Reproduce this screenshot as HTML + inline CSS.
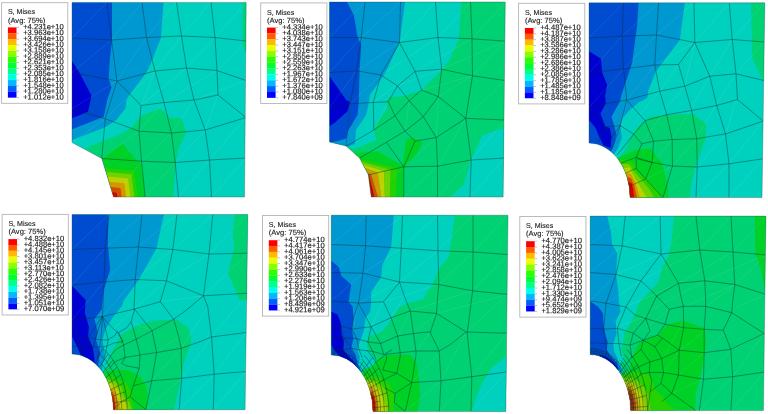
<!DOCTYPE html>
<html><head><meta charset="utf-8"><title>S, Mises contour plots</title>
<style>
html,body{margin:0;padding:0;background:#fff;}
body{width:768px;height:414px;overflow:hidden;font-family:"Liberation Sans",sans-serif;}
svg{display:block}
.t{font-family:"Liberation Sans",sans-serif;font-size:7.1px;fill:#1a1a1a;text-rendering:geometricPrecision;stroke:#1a1a1a;stroke-width:0.12px;}
.t2{font-family:"Liberation Sans",sans-serif;font-size:7.6px;fill:#1a1a1a;text-rendering:geometricPrecision;stroke:#1a1a1a;stroke-width:0.12px;}
.v{font-family:"Liberation Sans",sans-serif;font-size:7.6px;fill:#1a1a1a;text-rendering:geometricPrecision;stroke:#1a1a1a;stroke-width:0.15px;}
</style></head><body>
<svg width="768" height="414" viewBox="0 0 768 414">
<defs><filter id="gray" x="-5%" y="-5%" width="110%" height="110%" color-interpolation-filters="sRGB"><feColorMatrix type="saturate" values="0"/></filter></defs>
<rect width="768" height="414" fill="#ffffff"/>
<clipPath id="clip0"><polygon points="72.0,2.4 246.2,2.4 244.5,197.0 113.5,197.0 101.8,158.5 72.0,142.5"/></clipPath>
<g clip-path="url(#clip0)">
<rect x="0" y="0" width="768" height="414" fill="#00d1be"/>
<polygon points="243.1,2.4 246.2,2.4 246.0,54.0 242.5,44.0" fill="#00d172"/>
<polygon points="72.0,2.4 163.5,2.4 161.0,37.5 151.0,63.0 146.5,72.5 130.7,93.3 126.3,100.0 125.5,108.3 116.3,120.0 104.7,127.5 72.0,140.0" fill="#0098d1"/>
<polygon points="72.0,2.4 112.0,2.4 112.0,40.0 109.8,60.0 108.7,79.0 111.5,87.5 107.2,100.0 103.8,116.7 72.0,129.2" fill="#004cd1"/>
<polygon points="72.0,61.0 79.0,71.7 91.5,95.8 88.0,111.7 72.0,118.3" fill="#0000d1"/>
<polygon points="84.7,148.3 101.3,141.7 123.0,133.3 132.2,126.7 141.3,115.8 160.5,108.3 169.7,117.5 181.3,118.3 186.3,131.7 178.0,150.0 176.3,160.0 173.0,197.0 113.5,197.0 101.8,158.5" fill="#00d172"/>
<polygon points="101.8,158.5 122.5,143.8 136.8,160.8 140.9,162.3 145.5,197.0 113.5,197.0" fill="#00d126"/>
<polygon points="104.7,167.9 134.2,170.8 137.7,197.0 113.5,197.0" fill="#26d100"/>
<polygon points="105.9,171.9 131.4,174.3 134.4,197.0 113.5,197.0" fill="#72d100"/>
<polygon points="107.3,176.6 128.0,178.6 130.5,197.0 113.5,197.0" fill="#bed100"/>
<polygon points="108.9,181.8 124.4,183.3 126.2,197.0 113.5,197.0" fill="#d19800"/>
<polygon points="110.5,187.1 120.5,188.1 121.7,197.0 113.5,197.0" fill="#d14c00"/>
<polygon points="112.1,192.3 116.8,192.8 117.4,197.0 113.5,197.0" fill="#d10000"/>
<polyline points="72.0,38.0 107.0,2.4" fill="none" stroke="#ffffff" stroke-opacity="0.14" stroke-width="0.6"/>
<polyline points="111.5,40.0 142.0,2.4" fill="none" stroke="#ffffff" stroke-opacity="0.14" stroke-width="0.6"/>
<polyline points="146.5,37.5 176.5,2.4" fill="none" stroke="#ffffff" stroke-opacity="0.14" stroke-width="0.6"/>
<polyline points="181.5,36.0 211.0,2.4" fill="none" stroke="#ffffff" stroke-opacity="0.14" stroke-width="0.6"/>
<polyline points="215.0,37.5 246.2,2.4" fill="none" stroke="#ffffff" stroke-opacity="0.14" stroke-width="0.6"/>
<polyline points="72.0,72.5 111.5,40.0" fill="none" stroke="#ffffff" stroke-opacity="0.14" stroke-width="0.6"/>
<polyline points="117.0,81.0 146.5,37.5" fill="none" stroke="#ffffff" stroke-opacity="0.14" stroke-width="0.6"/>
<polyline points="155.0,71.0 181.5,36.0" fill="none" stroke="#ffffff" stroke-opacity="0.14" stroke-width="0.6"/>
<polyline points="186.5,68.0 215.0,37.5" fill="none" stroke="#ffffff" stroke-opacity="0.14" stroke-width="0.6"/>
<polyline points="217.0,70.5 246.0,41.0" fill="none" stroke="#ffffff" stroke-opacity="0.14" stroke-width="0.6"/>
<polyline points="72.0,108.8 117.0,81.0" fill="none" stroke="#ffffff" stroke-opacity="0.14" stroke-width="0.6"/>
<polyline points="105.2,118.8 155.0,71.0" fill="none" stroke="#ffffff" stroke-opacity="0.14" stroke-width="0.6"/>
<polyline points="141.0,105.5 186.5,68.0" fill="none" stroke="#ffffff" stroke-opacity="0.14" stroke-width="0.6"/>
<polyline points="164.0,102.5 217.0,70.5" fill="none" stroke="#ffffff" stroke-opacity="0.14" stroke-width="0.6"/>
<polyline points="194.0,100.0 246.0,80.5" fill="none" stroke="#ffffff" stroke-opacity="0.14" stroke-width="0.6"/>
<polyline points="101.8,158.5 139.0,131.2" fill="none" stroke="#ffffff" stroke-opacity="0.14" stroke-width="0.6"/>
<polyline points="141.5,161.2 171.5,133.0" fill="none" stroke="#ffffff" stroke-opacity="0.14" stroke-width="0.6"/>
<polyline points="175.2,162.5 205.2,130.0" fill="none" stroke="#ffffff" stroke-opacity="0.14" stroke-width="0.6"/>
<polyline points="209.5,160.0 246.0,117.5" fill="none" stroke="#ffffff" stroke-opacity="0.14" stroke-width="0.6"/>
<polyline points="113.5,197.0 141.5,161.2" fill="none" stroke="#ffffff" stroke-opacity="0.14" stroke-width="0.6"/>
<polyline points="145.2,197.0 175.2,162.5" fill="none" stroke="#ffffff" stroke-opacity="0.14" stroke-width="0.6"/>
<polyline points="178.5,197.0 209.5,160.0" fill="none" stroke="#ffffff" stroke-opacity="0.14" stroke-width="0.6"/>
<polyline points="211.5,197.0 246.0,158.0" fill="none" stroke="#ffffff" stroke-opacity="0.14" stroke-width="0.6"/>
<polyline points="72.0,142.5 105.2,118.8" fill="none" stroke="#ffffff" stroke-opacity="0.14" stroke-width="0.6"/>
<polyline points="141.0,105.5 155.0,71.0" fill="none" stroke="#ffffff" stroke-opacity="0.14" stroke-width="0.6"/>
<polyline points="139.0,131.2 164.0,102.5" fill="none" stroke="#ffffff" stroke-opacity="0.14" stroke-width="0.6"/>
<polyline points="171.5,133.0 194.0,100.0" fill="none" stroke="#ffffff" stroke-opacity="0.14" stroke-width="0.6"/>
<polyline points="205.2,130.0 218.0,95.0" fill="none" stroke="#ffffff" stroke-opacity="0.14" stroke-width="0.6"/>
<polyline points="107.0,2.4 111.5,40.0 117.0,81.0 105.2,118.8 101.8,158.5" fill="none" stroke="#0a2a30" stroke-opacity="0.75" stroke-width="0.55"/>
<polyline points="142.0,2.4 146.5,37.5 155.0,71.0 164.0,102.5 171.5,133.0 175.2,162.5 178.5,197.0" fill="none" stroke="#0a2a30" stroke-opacity="0.75" stroke-width="0.55"/>
<polyline points="176.5,2.4 181.5,36.0 186.5,68.0 194.0,100.0 205.2,130.0 209.5,160.0 211.5,197.0" fill="none" stroke="#0a2a30" stroke-opacity="0.75" stroke-width="0.55"/>
<polyline points="211.0,2.4 215.0,37.5 217.0,70.5 218.0,95.0 246.0,117.5" fill="none" stroke="#0a2a30" stroke-opacity="0.75" stroke-width="0.55"/>
<polyline points="117.0,81.0 141.0,105.5 139.0,131.2 141.5,161.2 145.2,197.0" fill="none" stroke="#0a2a30" stroke-opacity="0.75" stroke-width="0.55"/>
<polyline points="72.0,38.0 111.5,40.0 146.5,37.5 181.5,36.0 215.0,37.5 246.0,41.0" fill="none" stroke="#0a2a30" stroke-opacity="0.75" stroke-width="0.55"/>
<polyline points="72.0,72.5 117.0,81.0 155.0,71.0 186.5,68.0 217.0,70.5 246.0,80.5" fill="none" stroke="#0a2a30" stroke-opacity="0.75" stroke-width="0.55"/>
<polyline points="141.0,105.5 164.0,102.5 194.0,100.0 218.0,95.0" fill="none" stroke="#0a2a30" stroke-opacity="0.75" stroke-width="0.55"/>
<polyline points="72.0,108.8 105.2,118.8 139.0,131.2 171.5,133.0 205.2,130.0 246.0,117.5" fill="none" stroke="#0a2a30" stroke-opacity="0.75" stroke-width="0.55"/>
<polyline points="101.8,158.5 141.5,161.2 175.2,162.5 209.5,160.0 246.0,158.0" fill="none" stroke="#0a2a30" stroke-opacity="0.75" stroke-width="0.55"/>
</g>
<polygon points="72.0,2.4 246.2,2.4 244.5,197.0 113.5,197.0 101.8,158.5 72.0,142.5" fill="none" stroke="#2a4a4a" stroke-opacity="0.7" stroke-width="0.5"/>
<rect x="1.6" y="2.7" width="66.2" height="100.6" fill="#fff" stroke="#b4b4b4" stroke-width="0.9"/>
<g filter="url(#gray)">
<text x="7.9" y="14.3" class="t">S, Mises</text>
<text x="7.9" y="22.5" class="t2">(Avg: 75%)</text>
<text x="23.2" y="29.20" class="v" transform="rotate(0.05 23.2 29.20)">+4.231e+10</text>
<text x="23.2" y="35.05" class="v" transform="rotate(0.05 23.2 35.05)">+3.963e+10</text>
<text x="23.2" y="40.90" class="v" transform="rotate(0.05 23.2 40.90)">+3.694e+10</text>
<text x="23.2" y="46.75" class="v" transform="rotate(0.05 23.2 46.75)">+3.426e+10</text>
<text x="23.2" y="52.60" class="v" transform="rotate(0.05 23.2 52.60)">+3.158e+10</text>
<text x="23.2" y="58.45" class="v" transform="rotate(0.05 23.2 58.45)">+2.889e+10</text>
<text x="23.2" y="64.30" class="v" transform="rotate(0.05 23.2 64.30)">+2.621e+10</text>
<text x="23.2" y="70.15" class="v" transform="rotate(0.05 23.2 70.15)">+2.353e+10</text>
<text x="23.2" y="76.00" class="v" transform="rotate(0.05 23.2 76.00)">+2.085e+10</text>
<text x="23.2" y="81.85" class="v" transform="rotate(0.05 23.2 81.85)">+1.816e+10</text>
<text x="23.2" y="87.70" class="v" transform="rotate(0.05 23.2 87.70)">+1.548e+10</text>
<text x="23.2" y="93.55" class="v" transform="rotate(0.05 23.2 93.55)">+1.280e+10</text>
<text x="23.2" y="99.40" class="v" transform="rotate(0.05 23.2 99.40)">+1.012e+10</text>
</g>
<rect x="7.9" y="27.40" width="8.6" height="5.90" fill="#ff0000"/>
<rect x="7.9" y="33.25" width="8.6" height="5.90" fill="#ff5d00"/>
<rect x="7.9" y="39.10" width="8.6" height="5.90" fill="#ffb900"/>
<rect x="7.9" y="44.95" width="8.6" height="5.90" fill="#e8ff00"/>
<rect x="7.9" y="50.80" width="8.6" height="5.90" fill="#8bff00"/>
<rect x="7.9" y="56.65" width="8.6" height="5.90" fill="#2eff00"/>
<rect x="7.9" y="62.50" width="8.6" height="5.90" fill="#00ff2e"/>
<rect x="7.9" y="68.35" width="8.6" height="5.90" fill="#00ff8b"/>
<rect x="7.9" y="74.20" width="8.6" height="5.90" fill="#00ffe8"/>
<rect x="7.9" y="80.05" width="8.6" height="5.90" fill="#00b9ff"/>
<rect x="7.9" y="85.90" width="8.6" height="5.90" fill="#005dff"/>
<rect x="7.9" y="91.75" width="8.6" height="5.90" fill="#0000ff"/>
<line x1="16.5" y1="27.40" x2="19.0" y2="27.40" stroke="#888" stroke-width="0.5"/>
<line x1="16.5" y1="33.25" x2="19.0" y2="33.25" stroke="#888" stroke-width="0.5"/>
<line x1="16.5" y1="39.10" x2="19.0" y2="39.10" stroke="#888" stroke-width="0.5"/>
<line x1="16.5" y1="44.95" x2="19.0" y2="44.95" stroke="#888" stroke-width="0.5"/>
<line x1="16.5" y1="50.80" x2="19.0" y2="50.80" stroke="#888" stroke-width="0.5"/>
<line x1="16.5" y1="56.65" x2="19.0" y2="56.65" stroke="#888" stroke-width="0.5"/>
<line x1="16.5" y1="62.50" x2="19.0" y2="62.50" stroke="#888" stroke-width="0.5"/>
<line x1="16.5" y1="68.35" x2="19.0" y2="68.35" stroke="#888" stroke-width="0.5"/>
<line x1="16.5" y1="74.20" x2="19.0" y2="74.20" stroke="#888" stroke-width="0.5"/>
<line x1="16.5" y1="80.05" x2="19.0" y2="80.05" stroke="#888" stroke-width="0.5"/>
<line x1="16.5" y1="85.90" x2="19.0" y2="85.90" stroke="#888" stroke-width="0.5"/>
<line x1="16.5" y1="91.75" x2="19.0" y2="91.75" stroke="#888" stroke-width="0.5"/>
<line x1="16.5" y1="97.60" x2="19.0" y2="97.60" stroke="#888" stroke-width="0.5"/>
<clipPath id="clip1"><polygon points="329.5,2.0 505.3,2.0 503.1,197.0 371.2,197.0 368.3,174.8 359.6,158.1 346.0,146.0 329.5,142.0"/></clipPath>
<g clip-path="url(#clip1)">
<rect x="0" y="0" width="768" height="414" fill="#00d172"/>
<polygon points="329.5,2.0 461.2,2.0 458.8,38.8 450.0,58.8 442.5,69.2 421.7,90.0 405.0,95.8 389.2,97.5 385.8,103.3 387.5,108.3 375.8,124.2 373.8,130.0 376.2,140.0 355.0,148.8 346.0,146.0 329.5,141.2" fill="#00d1be"/>
<polygon points="329.5,2.0 405.0,2.0 399.5,42.5 385.5,72.5 370.0,95.0 368.8,103.0 366.2,115.0 356.0,130.0 355.0,143.7 348.0,146.8 346.0,146.0 329.5,142.5" fill="#0098d1"/>
<polygon points="329.5,2.0 347.0,2.0 353.8,15.0 357.5,36.2 361.2,45.0 359.5,71.2 358.8,103.0 357.5,115.0 348.5,130.0 346.3,138.4 338.0,141.0 329.5,142.5" fill="#004cd1"/>
<polygon points="329.5,76.2 346.2,100.0 350.0,102.0 347.5,111.2 335.0,122.5 329.5,126.2" fill="#0000d1"/>
<polygon points="506.0,127.5 482.5,135.0 470.0,162.5 463.8,185.0 450.0,197.0 506.0,197.0" fill="#00d1be"/>
<polygon points="354.0,153.0 378.0,151.5 402.5,165.5 406.2,140.0 412.5,137.5 422.5,142.5 416.2,155.0 403.8,167.5 403.8,197.0 371.2,197.0 368.3,174.8 359.6,158.1" fill="#00d126"/>
<polygon points="360.3,159.1 397.2,168.3 390.7,169.7 361.7,161.7" fill="#26d100"/>
<polygon points="361.7,161.7 390.7,169.7 384.2,171.2 363.2,164.6" fill="#72d100"/>
<polygon points="363.2,164.6 384.2,171.2 377.7,172.6 365.4,168.3" fill="#bed100"/>
<polygon points="365.4,168.3 377.7,172.6 371.2,174.2 367.5,173.0" fill="#d19800"/>
<polygon points="367.5,173.0 371.2,174.2 369.0,174.6 368.3,174.8" fill="#d14c00"/>
<polygon points="368.3,174.8 369.0,174.6 374.8,197.0 371.2,197.0" fill="#d10000"/>
<polygon points="369.0,174.6 371.2,174.2 378.0,197.0 374.8,197.0" fill="#d14c00"/>
<polygon points="371.2,174.2 377.7,172.6 381.3,197.0 378.0,197.0" fill="#d19800"/>
<polygon points="377.7,172.6 384.2,171.2 384.9,197.0 381.3,197.0" fill="#bed100"/>
<polygon points="384.2,171.2 390.7,169.7 390.0,197.0 384.9,197.0" fill="#72d100"/>
<polygon points="390.7,169.7 397.2,168.3 395.8,197.0 390.0,197.0" fill="#26d100"/>
<polyline points="329.5,37.5 365.0,2.0" fill="none" stroke="#ffffff" stroke-opacity="0.14" stroke-width="0.6"/>
<polyline points="361.2,37.5 400.5,2.0" fill="none" stroke="#ffffff" stroke-opacity="0.14" stroke-width="0.6"/>
<polyline points="399.5,42.5 435.5,2.0" fill="none" stroke="#ffffff" stroke-opacity="0.14" stroke-width="0.6"/>
<polyline points="438.0,37.5 470.5,2.0" fill="none" stroke="#ffffff" stroke-opacity="0.14" stroke-width="0.6"/>
<polyline points="472.0,38.8 505.3,2.0" fill="none" stroke="#ffffff" stroke-opacity="0.14" stroke-width="0.6"/>
<polyline points="329.5,72.5 361.2,37.5" fill="none" stroke="#ffffff" stroke-opacity="0.14" stroke-width="0.6"/>
<polyline points="356.7,70.8 399.5,42.5" fill="none" stroke="#ffffff" stroke-opacity="0.14" stroke-width="0.6"/>
<polyline points="380.8,75.0 438.0,37.5" fill="none" stroke="#ffffff" stroke-opacity="0.14" stroke-width="0.6"/>
<polyline points="415.0,71.3 472.0,38.8" fill="none" stroke="#ffffff" stroke-opacity="0.14" stroke-width="0.6"/>
<polyline points="441.7,69.2 505.3,41.2" fill="none" stroke="#ffffff" stroke-opacity="0.14" stroke-width="0.6"/>
<polyline points="329.5,107.5 356.7,70.8" fill="none" stroke="#ffffff" stroke-opacity="0.14" stroke-width="0.6"/>
<polyline points="350.0,103.8 380.8,75.0" fill="none" stroke="#ffffff" stroke-opacity="0.14" stroke-width="0.6"/>
<polyline points="373.3,102.5 415.0,71.3" fill="none" stroke="#ffffff" stroke-opacity="0.14" stroke-width="0.6"/>
<polyline points="397.5,85.8 441.7,69.2" fill="none" stroke="#ffffff" stroke-opacity="0.14" stroke-width="0.6"/>
<polyline points="421.7,90.0 472.5,75.8" fill="none" stroke="#ffffff" stroke-opacity="0.14" stroke-width="0.6"/>
<polyline points="403.8,197.0 437.5,166.2" fill="none" stroke="#ffffff" stroke-opacity="0.14" stroke-width="0.6"/>
<polyline points="437.5,197.0 471.2,160.0" fill="none" stroke="#ffffff" stroke-opacity="0.14" stroke-width="0.6"/>
<polyline points="470.0,197.0 505.0,158.0" fill="none" stroke="#ffffff" stroke-opacity="0.14" stroke-width="0.6"/>
<polyline points="437.5,166.2 465.8,118.3" fill="none" stroke="#ffffff" stroke-opacity="0.14" stroke-width="0.6"/>
<polyline points="471.2,160.0 505.0,120.0" fill="none" stroke="#ffffff" stroke-opacity="0.14" stroke-width="0.6"/>
<polyline points="465.8,118.3 505.0,80.5" fill="none" stroke="#ffffff" stroke-opacity="0.14" stroke-width="0.6"/>
<polyline points="438.3,96.7 472.5,75.8" fill="none" stroke="#ffffff" stroke-opacity="0.14" stroke-width="0.6"/>
<polyline points="472.5,75.8 505.3,41.2" fill="none" stroke="#ffffff" stroke-opacity="0.14" stroke-width="0.6"/>
<polyline points="346.2,146.2 350.0,103.8" fill="none" stroke="#ffffff" stroke-opacity="0.14" stroke-width="0.6"/>
<polyline points="373.8,130.0 388.3,101.7" fill="none" stroke="#ffffff" stroke-opacity="0.14" stroke-width="0.6"/>
<polyline points="405.0,131.2 409.2,100.8" fill="none" stroke="#ffffff" stroke-opacity="0.14" stroke-width="0.6"/>
<polyline points="436.2,137.5 438.3,96.7" fill="none" stroke="#ffffff" stroke-opacity="0.14" stroke-width="0.6"/>
<polyline points="403.8,166.8 436.2,137.5" fill="none" stroke="#ffffff" stroke-opacity="0.14" stroke-width="0.6"/>
<polyline points="371.2,197.0 403.8,166.8" fill="none" stroke="#ffffff" stroke-opacity="0.14" stroke-width="0.6"/>
<polyline points="365.0,2.0 361.2,37.5 356.7,70.8 350.0,103.8 346.2,146.2" fill="none" stroke="#0a2a30" stroke-opacity="0.75" stroke-width="0.55"/>
<polyline points="400.5,2.0 399.5,42.5 380.8,75.0 373.3,102.5 373.8,130.0" fill="none" stroke="#0a2a30" stroke-opacity="0.75" stroke-width="0.55"/>
<polyline points="435.5,2.0 438.0,37.5 441.7,69.2 438.3,96.7 423.3,116.7 405.0,131.2 359.6,158.1" fill="none" stroke="#0a2a30" stroke-opacity="0.75" stroke-width="0.55"/>
<polyline points="470.5,2.0 472.0,38.8 472.5,75.8 465.8,118.3 471.2,160.0 470.0,197.0" fill="none" stroke="#0a2a30" stroke-opacity="0.75" stroke-width="0.55"/>
<polyline points="329.5,37.5 361.2,37.5 399.5,42.5 438.0,37.5 472.0,38.8 505.3,41.2" fill="none" stroke="#0a2a30" stroke-opacity="0.75" stroke-width="0.55"/>
<polyline points="329.5,72.5 356.7,70.8 380.8,75.0 397.5,85.8 409.2,100.8 423.3,116.7 436.2,137.5 437.5,166.2 437.5,197.0" fill="none" stroke="#0a2a30" stroke-opacity="0.75" stroke-width="0.55"/>
<polyline points="399.5,42.5 415.0,71.3 421.7,90.0 438.3,96.7 465.8,118.3 505.0,120.0" fill="none" stroke="#0a2a30" stroke-opacity="0.75" stroke-width="0.55"/>
<polyline points="415.0,71.3 441.7,69.2 472.5,75.8 505.0,80.5" fill="none" stroke="#0a2a30" stroke-opacity="0.75" stroke-width="0.55"/>
<polyline points="415.0,71.3 397.5,85.8 388.3,101.7 395.0,115.8 405.0,131.2 415.0,141.2 403.8,166.8" fill="none" stroke="#0a2a30" stroke-opacity="0.75" stroke-width="0.55"/>
<polyline points="421.7,90.0 409.2,100.8 395.0,115.8 373.8,130.0 346.2,146.2" fill="none" stroke="#0a2a30" stroke-opacity="0.75" stroke-width="0.55"/>
<polyline points="329.5,107.5 350.0,103.8 373.3,102.5 388.3,101.7" fill="none" stroke="#0a2a30" stroke-opacity="0.75" stroke-width="0.55"/>
<polyline points="415.0,141.2 436.2,137.5 465.8,118.3" fill="none" stroke="#0a2a30" stroke-opacity="0.75" stroke-width="0.55"/>
<polyline points="368.3,174.8 403.8,166.8 437.5,166.2 471.2,160.0 505.0,158.0" fill="none" stroke="#0a2a30" stroke-opacity="0.75" stroke-width="0.55"/>
<polyline points="403.8,166.8 403.8,197.0" fill="none" stroke="#0a2a30" stroke-opacity="0.75" stroke-width="0.55"/>
<polyline points="403.8,166.8 386.4,142.3" fill="none" stroke="#0a2a30" stroke-opacity="0.75" stroke-width="0.55"/>
</g>
<polygon points="329.5,2.0 505.3,2.0 503.1,197.0 371.2,197.0 368.3,174.8 359.6,158.1 346.0,146.0 329.5,142.0" fill="none" stroke="#2a4a4a" stroke-opacity="0.7" stroke-width="0.5"/>
<rect x="260.7" y="2.9" width="66.2" height="100.6" fill="#fff" stroke="#b4b4b4" stroke-width="0.9"/>
<g filter="url(#gray)">
<text x="267.0" y="14.5" class="t">S, Mises</text>
<text x="267.0" y="22.7" class="t2">(Avg: 75%)</text>
<text x="282.3" y="29.40" class="v" transform="rotate(0.05 282.3 29.40)">+4.334e+10</text>
<text x="282.3" y="35.25" class="v" transform="rotate(0.05 282.3 35.25)">+4.038e+10</text>
<text x="282.3" y="41.10" class="v" transform="rotate(0.05 282.3 41.10)">+3.743e+10</text>
<text x="282.3" y="46.95" class="v" transform="rotate(0.05 282.3 46.95)">+3.447e+10</text>
<text x="282.3" y="52.80" class="v" transform="rotate(0.05 282.3 52.80)">+3.151e+10</text>
<text x="282.3" y="58.65" class="v" transform="rotate(0.05 282.3 58.65)">+2.855e+10</text>
<text x="282.3" y="64.50" class="v" transform="rotate(0.05 282.3 64.50)">+2.559e+10</text>
<text x="282.3" y="70.35" class="v" transform="rotate(0.05 282.3 70.35)">+2.263e+10</text>
<text x="282.3" y="76.20" class="v" transform="rotate(0.05 282.3 76.20)">+1.967e+10</text>
<text x="282.3" y="82.05" class="v" transform="rotate(0.05 282.3 82.05)">+1.672e+10</text>
<text x="282.3" y="87.90" class="v" transform="rotate(0.05 282.3 87.90)">+1.376e+10</text>
<text x="282.3" y="93.75" class="v" transform="rotate(0.05 282.3 93.75)">+1.080e+10</text>
<text x="282.3" y="99.60" class="v" transform="rotate(0.05 282.3 99.60)">+7.840e+09</text>
</g>
<rect x="267.0" y="27.60" width="8.6" height="5.90" fill="#ff0000"/>
<rect x="267.0" y="33.45" width="8.6" height="5.90" fill="#ff5d00"/>
<rect x="267.0" y="39.30" width="8.6" height="5.90" fill="#ffb900"/>
<rect x="267.0" y="45.15" width="8.6" height="5.90" fill="#e8ff00"/>
<rect x="267.0" y="51.00" width="8.6" height="5.90" fill="#8bff00"/>
<rect x="267.0" y="56.85" width="8.6" height="5.90" fill="#2eff00"/>
<rect x="267.0" y="62.70" width="8.6" height="5.90" fill="#00ff2e"/>
<rect x="267.0" y="68.55" width="8.6" height="5.90" fill="#00ff8b"/>
<rect x="267.0" y="74.40" width="8.6" height="5.90" fill="#00ffe8"/>
<rect x="267.0" y="80.25" width="8.6" height="5.90" fill="#00b9ff"/>
<rect x="267.0" y="86.10" width="8.6" height="5.90" fill="#005dff"/>
<rect x="267.0" y="91.95" width="8.6" height="5.90" fill="#0000ff"/>
<line x1="275.6" y1="27.60" x2="278.1" y2="27.60" stroke="#888" stroke-width="0.5"/>
<line x1="275.6" y1="33.45" x2="278.1" y2="33.45" stroke="#888" stroke-width="0.5"/>
<line x1="275.6" y1="39.30" x2="278.1" y2="39.30" stroke="#888" stroke-width="0.5"/>
<line x1="275.6" y1="45.15" x2="278.1" y2="45.15" stroke="#888" stroke-width="0.5"/>
<line x1="275.6" y1="51.00" x2="278.1" y2="51.00" stroke="#888" stroke-width="0.5"/>
<line x1="275.6" y1="56.85" x2="278.1" y2="56.85" stroke="#888" stroke-width="0.5"/>
<line x1="275.6" y1="62.70" x2="278.1" y2="62.70" stroke="#888" stroke-width="0.5"/>
<line x1="275.6" y1="68.55" x2="278.1" y2="68.55" stroke="#888" stroke-width="0.5"/>
<line x1="275.6" y1="74.40" x2="278.1" y2="74.40" stroke="#888" stroke-width="0.5"/>
<line x1="275.6" y1="80.25" x2="278.1" y2="80.25" stroke="#888" stroke-width="0.5"/>
<line x1="275.6" y1="86.10" x2="278.1" y2="86.10" stroke="#888" stroke-width="0.5"/>
<line x1="275.6" y1="91.95" x2="278.1" y2="91.95" stroke="#888" stroke-width="0.5"/>
<line x1="275.6" y1="97.80" x2="278.1" y2="97.80" stroke="#888" stroke-width="0.5"/>
<clipPath id="clip2"><path d="M589,2.8 L764.8,2.8 L762,197.6 L630.1,197.6 A41.1,54.6 0 0 0 589,143.0 Z"/></clipPath>
<g clip-path="url(#clip2)">
<rect x="0" y="0" width="768" height="414" fill="#00d1be"/>
<polygon points="751.1,2.8 764.8,2.8 763.6,82.5 752.2,57.5" fill="#00d172"/>
<polygon points="589.0,2.8 684.8,2.8 679.8,40.0 656.0,71.2 648.5,90.0 647.2,98.0 638.6,102.4 629.1,110.4 622.7,118.3 620.3,126.3 621.9,137.5 617.9,148.6 615.5,151.8 589.0,197.6" fill="#0098d1"/>
<polygon points="589.0,2.8 638.5,2.8 637.2,25.0 632.2,62.5 624.8,85.0 621.1,96.0 620.3,100.8 611.5,116.7 613.9,124.7 616.3,134.3 614.7,142.3 612.3,148.6 589.0,197.6" fill="#004cd1"/>
<polygon points="589.0,51.2 601.0,58.8 602.2,72.5 607.2,85.0 605.1,96.0 605.9,103.2 600.4,113.5 605.1,126.3 609.9,127.9 611.5,137.5 610.5,148.0 603.5,145.5 598.8,135.9 595.6,127.9 589.0,120.0" fill="#0000d1"/>
<polygon points="619.5,157.4 625.9,148.6 632.3,134.3 638.6,126.3 650.0,116.7 666.0,115.0 693.5,113.8 706.0,123.8 706.0,137.5 696.0,165.0 691.0,185.0 689.8,197.6 589.0,197.6" fill="#00d172"/>
<polygon points="617.4,158.1 637.7,149.4 650.7,148.7 662.3,163.9 667.4,183.5 668.1,197.6 589.0,197.6" fill="#00d126"/>
<polygon points="618.8,160.3 627.5,159.6 634.8,163.9 637.0,171.2 646.4,179.1 655.1,187.8 663.0,197.6 589.0,197.6" fill="#26d100"/>
<polygon points="621.0,163.9 629.0,163.9 634.1,171.2 642.0,180.6 649.3,189.3 654.3,197.6 589.0,197.6" fill="#72d100"/>
<polygon points="622.9,168.3 629.7,167.5 632.6,174.1 638.4,183.5 646.4,197.6 589.0,197.6" fill="#bed100"/>
<polygon points="624.9,172.6 631.0,174.1 635.8,183.5 639.9,197.6 589.0,197.6" fill="#d19800"/>
<polygon points="626.1,176.2 631.2,178.4 634.5,186.4 637.0,197.6 589.0,197.6" fill="#d14c00"/>
<polygon points="627.5,181.3 631.8,183.5 633.2,189.3 634.1,197.6 589.0,197.6" fill="#d10000"/>
<polyline points="589.0,38.0 623.5,2.8" fill="none" stroke="#ffffff" stroke-opacity="0.14" stroke-width="0.6"/>
<polyline points="622.2,36.2 658.5,2.8" fill="none" stroke="#ffffff" stroke-opacity="0.14" stroke-width="0.6"/>
<polyline points="656.5,35.0 694.0,2.8" fill="none" stroke="#ffffff" stroke-opacity="0.14" stroke-width="0.6"/>
<polyline points="694.8,42.5 729.3,2.8" fill="none" stroke="#ffffff" stroke-opacity="0.14" stroke-width="0.6"/>
<polyline points="732.2,39.5 764.8,2.8" fill="none" stroke="#ffffff" stroke-opacity="0.14" stroke-width="0.6"/>
<polyline points="589.0,73.0 622.2,36.2" fill="none" stroke="#ffffff" stroke-opacity="0.14" stroke-width="0.6"/>
<polyline points="623.5,68.8 656.5,35.0" fill="none" stroke="#ffffff" stroke-opacity="0.14" stroke-width="0.6"/>
<polyline points="654.8,65.0 694.8,42.5" fill="none" stroke="#ffffff" stroke-opacity="0.14" stroke-width="0.6"/>
<polyline points="709.8,76.2 732.2,39.5" fill="none" stroke="#ffffff" stroke-opacity="0.14" stroke-width="0.6"/>
<polyline points="736.0,73.8 764.0,42.0" fill="none" stroke="#ffffff" stroke-opacity="0.14" stroke-width="0.6"/>
<polyline points="672.2,139.5 689.8,110.5" fill="none" stroke="#ffffff" stroke-opacity="0.14" stroke-width="0.6"/>
<polyline points="696.0,138.8 716.0,105.0" fill="none" stroke="#ffffff" stroke-opacity="0.14" stroke-width="0.6"/>
<polyline points="726.0,133.8 736.0,100.0" fill="none" stroke="#ffffff" stroke-opacity="0.14" stroke-width="0.6"/>
<polyline points="672.5,166.1 696.0,138.8" fill="none" stroke="#ffffff" stroke-opacity="0.14" stroke-width="0.6"/>
<polyline points="697.2,167.0 726.0,133.8" fill="none" stroke="#ffffff" stroke-opacity="0.14" stroke-width="0.6"/>
<polyline points="729.0,163.8 763.0,121.2" fill="none" stroke="#ffffff" stroke-opacity="0.14" stroke-width="0.6"/>
<polyline points="663.0,197.6 697.2,167.0" fill="none" stroke="#ffffff" stroke-opacity="0.14" stroke-width="0.6"/>
<polyline points="696.0,197.6 729.0,163.8" fill="none" stroke="#ffffff" stroke-opacity="0.14" stroke-width="0.6"/>
<polyline points="729.0,197.6 763.0,158.8" fill="none" stroke="#ffffff" stroke-opacity="0.14" stroke-width="0.6"/>
<polyline points="627.2,100.0 654.8,65.0" fill="none" stroke="#ffffff" stroke-opacity="0.14" stroke-width="0.6"/>
<polyline points="659.8,91.2 678.5,64.5" fill="none" stroke="#ffffff" stroke-opacity="0.14" stroke-width="0.6"/>
<polyline points="684.8,86.2 694.8,42.5" fill="none" stroke="#ffffff" stroke-opacity="0.14" stroke-width="0.6"/>
<polyline points="589.0,107.5 623.5,68.8" fill="none" stroke="#ffffff" stroke-opacity="0.14" stroke-width="0.6"/>
<polyline points="621.0,126.2 627.2,100.0" fill="none" stroke="#ffffff" stroke-opacity="0.14" stroke-width="0.6"/>
<polyline points="636.0,118.8 659.8,91.2" fill="none" stroke="#ffffff" stroke-opacity="0.14" stroke-width="0.6"/>
<polyline points="662.2,113.8 684.8,86.2" fill="none" stroke="#ffffff" stroke-opacity="0.14" stroke-width="0.6"/>
<polyline points="689.8,110.5 709.8,76.2" fill="none" stroke="#ffffff" stroke-opacity="0.14" stroke-width="0.6"/>
<polyline points="716.0,105.0 736.0,73.8" fill="none" stroke="#ffffff" stroke-opacity="0.14" stroke-width="0.6"/>
<polyline points="643.5,141.2 662.2,113.8" fill="none" stroke="#ffffff" stroke-opacity="0.14" stroke-width="0.6"/>
<polyline points="652.2,162.5 672.2,139.5" fill="none" stroke="#ffffff" stroke-opacity="0.14" stroke-width="0.6"/>
<polyline points="645.7,179.1 672.5,166.1" fill="none" stroke="#ffffff" stroke-opacity="0.14" stroke-width="0.6"/>
<polyline points="623.5,2.8 622.2,36.2 623.5,68.8 626.7,100.0 620.3,125.5 611.5,150.2" fill="none" stroke="#0a2a30" stroke-opacity="0.75" stroke-width="0.55"/>
<polyline points="658.5,2.8 656.5,35.0 654.8,65.0 659.8,91.2 666.7,114.7 672.2,139.5 672.5,166.1 663.0,197.6" fill="none" stroke="#0a2a30" stroke-opacity="0.75" stroke-width="0.55"/>
<polyline points="694.0,2.8 694.8,42.5 709.8,76.2 716.7,105.5 725.5,133.8 729.0,163.8 729.0,197.6" fill="none" stroke="#0a2a30" stroke-opacity="0.75" stroke-width="0.55"/>
<polyline points="729.3,2.8 732.2,39.5 736.0,73.8 737.5,99.5" fill="none" stroke="#0a2a30" stroke-opacity="0.75" stroke-width="0.55"/>
<polyline points="589.0,38.0 622.2,36.2 656.5,35.0 694.8,42.5 732.2,39.5 764.0,42.0" fill="none" stroke="#0a2a30" stroke-opacity="0.75" stroke-width="0.55"/>
<polyline points="589.0,73.0 623.5,68.8 654.8,65.0 678.5,64.5 694.8,42.5" fill="none" stroke="#0a2a30" stroke-opacity="0.75" stroke-width="0.55"/>
<polyline points="678.5,64.5 684.8,86.2 691.7,110.5 696.7,138.5 697.2,167.0 696.0,197.6" fill="none" stroke="#0a2a30" stroke-opacity="0.75" stroke-width="0.55"/>
<polyline points="588.9,108.0 605.1,104.0 626.7,100.0 659.8,91.2 684.8,86.2 709.8,76.2 736.0,73.8 764.0,80.5" fill="none" stroke="#0a2a30" stroke-opacity="0.75" stroke-width="0.55"/>
<polyline points="645.0,120.7 666.7,114.7 691.7,110.5 716.7,105.5 737.5,99.5 762.5,120.5" fill="none" stroke="#0a2a30" stroke-opacity="0.75" stroke-width="0.55"/>
<polyline points="641.8,143.8 653.5,141.2 672.2,139.5 696.0,138.8 726.0,133.8 763.0,121.2" fill="none" stroke="#0a2a30" stroke-opacity="0.75" stroke-width="0.55"/>
<polyline points="645.0,120.7 653.5,141.2 652.2,162.5 645.7,179.1" fill="none" stroke="#0a2a30" stroke-opacity="0.75" stroke-width="0.55"/>
<polyline points="637.2,158.8 652.2,162.5 672.5,166.1 697.2,167.0 729.0,163.8 763.0,158.8" fill="none" stroke="#0a2a30" stroke-opacity="0.75" stroke-width="0.55"/>
<polyline points="588.9,108.0 605.1,127.1 620.3,125.5 633.8,134.3 641.8,143.8 636.2,157.4" fill="none" stroke="#0a2a30" stroke-opacity="0.75" stroke-width="0.55"/>
<polyline points="605.1,127.1 598.0,142.3" fill="none" stroke="#0a2a30" stroke-opacity="0.75" stroke-width="0.55"/>
<polyline points="605.1,127.1 611.5,137.5 604.5,145.5" fill="none" stroke="#0a2a30" stroke-opacity="0.75" stroke-width="0.55"/>
<polyline points="611.5,137.5 620.3,125.5" fill="none" stroke="#0a2a30" stroke-opacity="0.75" stroke-width="0.55"/>
<polyline points="626.7,100.0 645.0,120.7 633.8,134.3 617.1,155.0" fill="none" stroke="#0a2a30" stroke-opacity="0.75" stroke-width="0.55"/>
<polyline points="620.3,163.2 636.2,157.4" fill="none" stroke="#0a2a30" stroke-opacity="0.75" stroke-width="0.55"/>
<polyline points="625.4,173.3 636.2,168.3 636.2,157.4" fill="none" stroke="#0a2a30" stroke-opacity="0.75" stroke-width="0.55"/>
<polyline points="629.0,186.4 645.7,179.1 636.2,168.3" fill="none" stroke="#0a2a30" stroke-opacity="0.75" stroke-width="0.55"/>
<polyline points="645.7,179.1 663.0,197.6" fill="none" stroke="#0a2a30" stroke-opacity="0.75" stroke-width="0.55"/>
<polyline points="636.2,157.4 652.2,162.5" fill="none" stroke="#0a2a30" stroke-opacity="0.75" stroke-width="0.55"/>
</g>
<path d="M589,2.8 L764.8,2.8 L762,197.6 L630.1,197.6 A41.1,54.6 0 0 0 589,143.0 Z" fill="none" stroke="#2a4a4a" stroke-opacity="0.7" stroke-width="0.5"/>
<rect x="518.6" y="3.3" width="66.2" height="100.6" fill="#fff" stroke="#b4b4b4" stroke-width="0.9"/>
<g filter="url(#gray)">
<text x="524.9" y="14.9" class="t">S, Mises</text>
<text x="524.9" y="23.1" class="t2">(Avg: 75%)</text>
<text x="540.2" y="29.80" class="v" transform="rotate(0.05 540.2 29.80)">+4.487e+10</text>
<text x="540.2" y="35.65" class="v" transform="rotate(0.05 540.2 35.65)">+4.187e+10</text>
<text x="540.2" y="41.50" class="v" transform="rotate(0.05 540.2 41.50)">+3.887e+10</text>
<text x="540.2" y="47.35" class="v" transform="rotate(0.05 540.2 47.35)">+3.586e+10</text>
<text x="540.2" y="53.20" class="v" transform="rotate(0.05 540.2 53.20)">+3.286e+10</text>
<text x="540.2" y="59.05" class="v" transform="rotate(0.05 540.2 59.05)">+2.986e+10</text>
<text x="540.2" y="64.90" class="v" transform="rotate(0.05 540.2 64.90)">+2.686e+10</text>
<text x="540.2" y="70.75" class="v" transform="rotate(0.05 540.2 70.75)">+2.386e+10</text>
<text x="540.2" y="76.60" class="v" transform="rotate(0.05 540.2 76.60)">+2.085e+10</text>
<text x="540.2" y="82.45" class="v" transform="rotate(0.05 540.2 82.45)">+1.785e+10</text>
<text x="540.2" y="88.30" class="v" transform="rotate(0.05 540.2 88.30)">+1.485e+10</text>
<text x="540.2" y="94.15" class="v" transform="rotate(0.05 540.2 94.15)">+1.185e+10</text>
<text x="540.2" y="100.00" class="v" transform="rotate(0.05 540.2 100.00)">+8.848e+09</text>
</g>
<rect x="524.9" y="28.00" width="8.6" height="5.90" fill="#ff0000"/>
<rect x="524.9" y="33.85" width="8.6" height="5.90" fill="#ff5d00"/>
<rect x="524.9" y="39.70" width="8.6" height="5.90" fill="#ffb900"/>
<rect x="524.9" y="45.55" width="8.6" height="5.90" fill="#e8ff00"/>
<rect x="524.9" y="51.40" width="8.6" height="5.90" fill="#8bff00"/>
<rect x="524.9" y="57.25" width="8.6" height="5.90" fill="#2eff00"/>
<rect x="524.9" y="63.10" width="8.6" height="5.90" fill="#00ff2e"/>
<rect x="524.9" y="68.95" width="8.6" height="5.90" fill="#00ff8b"/>
<rect x="524.9" y="74.80" width="8.6" height="5.90" fill="#00ffe8"/>
<rect x="524.9" y="80.65" width="8.6" height="5.90" fill="#00b9ff"/>
<rect x="524.9" y="86.50" width="8.6" height="5.90" fill="#005dff"/>
<rect x="524.9" y="92.35" width="8.6" height="5.90" fill="#0000ff"/>
<line x1="533.5" y1="28.00" x2="536.0" y2="28.00" stroke="#888" stroke-width="0.5"/>
<line x1="533.5" y1="33.85" x2="536.0" y2="33.85" stroke="#888" stroke-width="0.5"/>
<line x1="533.5" y1="39.70" x2="536.0" y2="39.70" stroke="#888" stroke-width="0.5"/>
<line x1="533.5" y1="45.55" x2="536.0" y2="45.55" stroke="#888" stroke-width="0.5"/>
<line x1="533.5" y1="51.40" x2="536.0" y2="51.40" stroke="#888" stroke-width="0.5"/>
<line x1="533.5" y1="57.25" x2="536.0" y2="57.25" stroke="#888" stroke-width="0.5"/>
<line x1="533.5" y1="63.10" x2="536.0" y2="63.10" stroke="#888" stroke-width="0.5"/>
<line x1="533.5" y1="68.95" x2="536.0" y2="68.95" stroke="#888" stroke-width="0.5"/>
<line x1="533.5" y1="74.80" x2="536.0" y2="74.80" stroke="#888" stroke-width="0.5"/>
<line x1="533.5" y1="80.65" x2="536.0" y2="80.65" stroke="#888" stroke-width="0.5"/>
<line x1="533.5" y1="86.50" x2="536.0" y2="86.50" stroke="#888" stroke-width="0.5"/>
<line x1="533.5" y1="92.35" x2="536.0" y2="92.35" stroke="#888" stroke-width="0.5"/>
<line x1="533.5" y1="98.20" x2="536.0" y2="98.20" stroke="#888" stroke-width="0.5"/>
<clipPath id="clip3"><path d="M72,214.5 L247.8,214.5 L245.1,409.7 L113.5,409.7 A41.5,55.7 0 0 0 72,354.0 Z"/></clipPath>
<g clip-path="url(#clip3)">
<rect x="0" y="0" width="768" height="414" fill="#00d1be"/>
<polygon points="234.8,214.5 247.8,214.5 247.0,299.5 240.2,300.8 227.8,273.2 234.0,248.2 232.8,232.0" fill="#00d172"/>
<polygon points="72.0,214.5 164.0,214.5 156.5,248.2 139.0,279.5 124.0,300.0 121.6,306.4 113.7,315.9 105.7,328.7 102.5,339.9 104.9,354.2 103.3,360.6 101.5,373.2 72.0,409.7" fill="#0098d1"/>
<polygon points="72.0,214.5 108.5,214.5 107.8,244.5 110.2,269.5 104.0,289.5 102.5,300.0 101.7,309.6 94.5,319.1 97.7,331.9 96.1,339.9 100.1,352.6 98.5,362.2 99.0,369.5 72.0,409.7" fill="#004cd1"/>
<polygon points="72.0,285.8 85.7,300.0 84.9,312.8 88.9,327.1 88.1,336.7 92.9,347.8 94.5,359.0 95.0,366.0 88.0,360.0 80.2,354.2 77.0,346.3 72.0,336.7" fill="#0000d1"/>
<polygon points="104.0,375.8 111.5,352.0 121.5,334.5 136.5,325.8 154.0,320.8 176.5,319.5 189.0,328.2 191.5,342.0 184.0,362.0 180.2,382.0 174.0,409.7 72.0,409.7" fill="#00d172"/>
<polygon points="102.1,372.1 113.0,369.9 127.5,369.9 139.1,375.7 146.3,385.9 147.8,397.5 146.3,409.7 72.0,409.7" fill="#00d126"/>
<polygon points="104.3,375.7 114.4,377.2 126.0,383.0 131.1,391.7 131.8,400.4 134.0,409.7 72.0,409.7" fill="#26d100"/>
<polygon points="105.7,379.4 113.7,380.8 121.5,387.3 123.8,396.0 129.5,402.5 132.0,409.7 72.0,409.7" fill="#72d100"/>
<polygon points="107.2,382.3 113.7,383.7 118.5,390.2 120.6,396.5 125.5,403.3 128.0,409.7 72.0,409.7" fill="#bed100"/>
<polygon points="109.5,388.0 113.0,389.0 115.5,393.1 116.8,398.0 119.5,404.7 120.8,409.7 72.0,409.7" fill="#d19800"/>
<polygon points="110.6,391.0 113.0,392.5 114.8,397.5 115.6,403.3 116.3,409.7 72.0,409.7" fill="#d14c00"/>
<polygon points="111.6,395.0 113.5,397.5 114.5,403.3 114.9,409.7 72.0,409.7" fill="#d10000"/>
<polyline points="72.0,249.5 109.0,214.5" fill="none" stroke="#ffffff" stroke-opacity="0.14" stroke-width="0.6"/>
<polyline points="105.2,248.2 142.0,214.5" fill="none" stroke="#ffffff" stroke-opacity="0.14" stroke-width="0.6"/>
<polyline points="138.5,247.0 177.0,214.5" fill="none" stroke="#ffffff" stroke-opacity="0.14" stroke-width="0.6"/>
<polyline points="172.8,249.5 212.8,214.5" fill="none" stroke="#ffffff" stroke-opacity="0.14" stroke-width="0.6"/>
<polyline points="209.0,254.0 247.8,214.5" fill="none" stroke="#ffffff" stroke-opacity="0.14" stroke-width="0.6"/>
<polyline points="72.0,285.0 105.2,248.2" fill="none" stroke="#ffffff" stroke-opacity="0.14" stroke-width="0.6"/>
<polyline points="104.0,282.0 138.5,247.0" fill="none" stroke="#ffffff" stroke-opacity="0.14" stroke-width="0.6"/>
<polyline points="135.2,279.5 172.8,249.5" fill="none" stroke="#ffffff" stroke-opacity="0.14" stroke-width="0.6"/>
<polyline points="166.5,280.8 209.0,254.0" fill="none" stroke="#ffffff" stroke-opacity="0.14" stroke-width="0.6"/>
<polyline points="203.5,295.8 247.8,253.2" fill="none" stroke="#ffffff" stroke-opacity="0.14" stroke-width="0.6"/>
<polyline points="72.0,320.0 104.0,282.0" fill="none" stroke="#ffffff" stroke-opacity="0.14" stroke-width="0.6"/>
<polyline points="102.0,316.7 135.2,279.5" fill="none" stroke="#ffffff" stroke-opacity="0.14" stroke-width="0.6"/>
<polyline points="133.7,309.2 166.5,280.8" fill="none" stroke="#ffffff" stroke-opacity="0.14" stroke-width="0.6"/>
<polyline points="160.3,301.7 203.5,295.8" fill="none" stroke="#ffffff" stroke-opacity="0.14" stroke-width="0.6"/>
<polyline points="181.2,348.3 207.8,307.0" fill="none" stroke="#ffffff" stroke-opacity="0.14" stroke-width="0.6"/>
<polyline points="211.5,337.0 247.8,293.2" fill="none" stroke="#ffffff" stroke-opacity="0.14" stroke-width="0.6"/>
<polyline points="181.7,378.3 211.5,337.0" fill="none" stroke="#ffffff" stroke-opacity="0.14" stroke-width="0.6"/>
<polyline points="214.2,374.2 246.0,332.5" fill="none" stroke="#ffffff" stroke-opacity="0.14" stroke-width="0.6"/>
<polyline points="179.2,409.7 214.2,374.2" fill="none" stroke="#ffffff" stroke-opacity="0.14" stroke-width="0.6"/>
<polyline points="213.3,409.7 246.5,371.5" fill="none" stroke="#ffffff" stroke-opacity="0.14" stroke-width="0.6"/>
<polyline points="152.0,330.8 173.7,319.2" fill="none" stroke="#ffffff" stroke-opacity="0.14" stroke-width="0.6"/>
<polyline points="156.7,352.5 178.7,336.7" fill="none" stroke="#ffffff" stroke-opacity="0.14" stroke-width="0.6"/>
<polyline points="151.7,380.8 181.2,348.3" fill="none" stroke="#ffffff" stroke-opacity="0.14" stroke-width="0.6"/>
<polyline points="145.8,409.7 181.7,378.3" fill="none" stroke="#ffffff" stroke-opacity="0.14" stroke-width="0.6"/>
<polyline points="136.2,339.2 152.0,330.8" fill="none" stroke="#ffffff" stroke-opacity="0.14" stroke-width="0.6"/>
<polyline points="140.0,355.0 156.7,352.5" fill="none" stroke="#ffffff" stroke-opacity="0.14" stroke-width="0.6"/>
<polyline points="113.7,329.2 134.5,309.2" fill="none" stroke="#ffffff" stroke-opacity="0.14" stroke-width="0.6"/>
<polyline points="131.2,321.7 152.0,330.8" fill="none" stroke="#ffffff" stroke-opacity="0.14" stroke-width="0.6"/>
<polyline points="109.0,214.5 105.2,248.2 104.0,282.0 102.5,316.0" fill="none" stroke="#0a2a30" stroke-opacity="0.75" stroke-width="0.55"/>
<polyline points="142.0,214.5 138.5,247.0 135.2,279.5 134.0,310.0 134.5,309.2 131.2,321.7 127.0,327.5 118.7,332.5" fill="none" stroke="#0a2a30" stroke-opacity="0.75" stroke-width="0.55"/>
<polyline points="177.0,214.5 172.8,249.5 166.5,280.8 160.2,302.0 160.3,301.7 173.7,319.2 178.7,336.7 181.2,348.3 181.7,378.3 179.2,409.7" fill="none" stroke="#0a2a30" stroke-opacity="0.75" stroke-width="0.55"/>
<polyline points="212.8,214.5 209.0,254.0 203.5,295.8 186.5,310.0 173.7,319.2 152.0,330.8 136.2,339.2 123.7,345.0 116.2,349.2 111.2,355.0 105.3,365.0" fill="none" stroke="#0a2a30" stroke-opacity="0.75" stroke-width="0.55"/>
<polyline points="72.0,249.5 105.2,248.2 138.5,247.0 172.8,249.5 209.0,254.0 247.8,253.2" fill="none" stroke="#0a2a30" stroke-opacity="0.75" stroke-width="0.55"/>
<polyline points="72.0,285.0 104.0,282.0 135.2,279.5 166.5,280.8 203.5,295.8 247.8,293.2" fill="none" stroke="#0a2a30" stroke-opacity="0.75" stroke-width="0.55"/>
<polyline points="72.0,320.0 102.0,316.7 133.7,309.2 160.3,301.7" fill="none" stroke="#0a2a30" stroke-opacity="0.75" stroke-width="0.55"/>
<polyline points="134.5,309.2 152.0,330.8 156.7,352.5 151.7,380.8 145.8,409.7" fill="none" stroke="#0a2a30" stroke-opacity="0.75" stroke-width="0.55"/>
<polyline points="131.2,321.7 136.2,339.2 140.0,355.0 139.2,368.3 133.3,385.8 130.0,396.7 121.7,401.7 113.3,409.2" fill="none" stroke="#0a2a30" stroke-opacity="0.75" stroke-width="0.55"/>
<polyline points="102.0,316.7 113.7,329.2 118.7,332.5 123.7,345.0 125.0,357.5 121.7,363.3 126.7,365.8 139.2,368.3" fill="none" stroke="#0a2a30" stroke-opacity="0.75" stroke-width="0.55"/>
<polyline points="246.0,332.5 211.5,337.0 200.0,341.7 181.2,348.3 156.7,352.5 140.0,355.0 125.0,357.5 115.0,361.7 108.7,369.0" fill="none" stroke="#0a2a30" stroke-opacity="0.75" stroke-width="0.55"/>
<polyline points="203.5,295.8 207.8,307.0 211.5,337.0 214.2,374.2 213.3,409.7" fill="none" stroke="#0a2a30" stroke-opacity="0.75" stroke-width="0.55"/>
<polyline points="246.5,371.5 214.2,374.2 181.7,378.3 151.7,380.8 133.3,385.8" fill="none" stroke="#0a2a30" stroke-opacity="0.75" stroke-width="0.55"/>
<polyline points="130.0,396.7 145.8,409.7" fill="none" stroke="#0a2a30" stroke-opacity="0.75" stroke-width="0.55"/>
<polyline points="102.5,316.0 88.1,337.5 81.0,354.2" fill="none" stroke="#0a2a30" stroke-opacity="0.75" stroke-width="0.55"/>
<polyline points="102.5,316.0 95.3,339.1 90.5,354.2" fill="none" stroke="#0a2a30" stroke-opacity="0.75" stroke-width="0.55"/>
<polyline points="102.5,316.0 100.9,339.9 98.5,352.6 97.0,358.0" fill="none" stroke="#0a2a30" stroke-opacity="0.75" stroke-width="0.55"/>
<polyline points="102.5,316.0 108.1,339.9 105.7,352.6 103.0,362.0" fill="none" stroke="#0a2a30" stroke-opacity="0.75" stroke-width="0.55"/>
<polyline points="72.0,320.0 78.6,339.9 81.0,354.2" fill="none" stroke="#0a2a30" stroke-opacity="0.75" stroke-width="0.55"/>
<polyline points="78.6,339.9 88.1,337.5 95.3,339.1 100.9,339.9 108.1,339.9 115.3,335.1 116.8,331.9" fill="none" stroke="#0a2a30" stroke-opacity="0.75" stroke-width="0.55"/>
<polyline points="72.0,346.3 81.0,346.3 89.7,346.3 98.5,347.0 106.5,346.3 113.7,343.1 123.2,341.5" fill="none" stroke="#0a2a30" stroke-opacity="0.75" stroke-width="0.55"/>
<polyline points="116.8,331.9 123.2,341.5" fill="none" stroke="#0a2a30" stroke-opacity="0.75" stroke-width="0.55"/>
<polyline points="117.2,409.7 117.1,404.8 116.6,399.9 115.9,395.0 114.9,390.3 113.5,385.7 111.9,381.2 110.1,376.9 108.0,372.9 105.6,369.1 103.0,365.5 100.3,362.3 97.3,359.4" fill="none" stroke="#0a2a30" stroke-opacity="0.75" stroke-width="0.55"/>
<polyline points="121.8,409.7 121.6,404.3 121.1,398.9 120.3,393.5 119.2,388.3 117.7,383.2 116.0,378.3 113.9,373.6 111.6,369.2 109.0,365.0 106.2,361.1 103.1,357.5 99.8,354.3" fill="none" stroke="#0a2a30" stroke-opacity="0.75" stroke-width="0.55"/>
<polyline points="127.2,409.7 127.0,403.7 126.5,397.7 125.6,391.8 124.3,386.0 122.7,380.4 120.7,374.9 118.5,369.7 115.9,364.8 113.0,360.1 109.9,355.8 106.5,351.9 102.9,348.3" fill="none" stroke="#0a2a30" stroke-opacity="0.75" stroke-width="0.55"/>
<polyline points="113.2,402.9 126.8,400.7" fill="none" stroke="#0a2a30" stroke-opacity="0.75" stroke-width="0.55"/>
<polyline points="112.3,396.2 125.6,391.8" fill="none" stroke="#0a2a30" stroke-opacity="0.75" stroke-width="0.55"/>
<polyline points="110.7,389.7 123.5,383.2" fill="none" stroke="#0a2a30" stroke-opacity="0.75" stroke-width="0.55"/>
<polyline points="108.6,383.6 120.7,374.9" fill="none" stroke="#0a2a30" stroke-opacity="0.75" stroke-width="0.55"/>
<polyline points="106.0,377.8 117.2,367.2" fill="none" stroke="#0a2a30" stroke-opacity="0.75" stroke-width="0.55"/>
<polyline points="102.8,372.4 113.0,360.1" fill="none" stroke="#0a2a30" stroke-opacity="0.75" stroke-width="0.55"/>
<polyline points="99.2,367.7 108.2,353.8" fill="none" stroke="#0a2a30" stroke-opacity="0.75" stroke-width="0.55"/>
<polyline points="95.2,363.5 102.9,348.3" fill="none" stroke="#0a2a30" stroke-opacity="0.75" stroke-width="0.55"/>
</g>
<path d="M72,214.5 L247.8,214.5 L245.1,409.7 L113.5,409.7 A41.5,55.7 0 0 0 72,354.0 Z" fill="none" stroke="#2a4a4a" stroke-opacity="0.7" stroke-width="0.5"/>
<rect x="2.1" y="214.4" width="66.2" height="100.6" fill="#fff" stroke="#b4b4b4" stroke-width="0.9"/>
<g filter="url(#gray)">
<text x="8.4" y="226.0" class="t">S, Mises</text>
<text x="8.4" y="234.2" class="t2">(Avg: 75%)</text>
<text x="23.7" y="240.90" class="v" transform="rotate(0.05 23.7 240.90)">+4.832e+10</text>
<text x="23.7" y="246.75" class="v" transform="rotate(0.05 23.7 246.75)">+4.488e+10</text>
<text x="23.7" y="252.60" class="v" transform="rotate(0.05 23.7 252.60)">+4.145e+10</text>
<text x="23.7" y="258.45" class="v" transform="rotate(0.05 23.7 258.45)">+3.801e+10</text>
<text x="23.7" y="264.30" class="v" transform="rotate(0.05 23.7 264.30)">+3.457e+10</text>
<text x="23.7" y="270.15" class="v" transform="rotate(0.05 23.7 270.15)">+3.113e+10</text>
<text x="23.7" y="276.00" class="v" transform="rotate(0.05 23.7 276.00)">+2.770e+10</text>
<text x="23.7" y="281.85" class="v" transform="rotate(0.05 23.7 281.85)">+2.426e+10</text>
<text x="23.7" y="287.70" class="v" transform="rotate(0.05 23.7 287.70)">+2.082e+10</text>
<text x="23.7" y="293.55" class="v" transform="rotate(0.05 23.7 293.55)">+1.738e+10</text>
<text x="23.7" y="299.40" class="v" transform="rotate(0.05 23.7 299.40)">+1.395e+10</text>
<text x="23.7" y="305.25" class="v" transform="rotate(0.05 23.7 305.25)">+1.051e+10</text>
<text x="23.7" y="311.10" class="v" transform="rotate(0.05 23.7 311.10)">+7.070e+09</text>
</g>
<rect x="8.4" y="239.10" width="8.6" height="5.90" fill="#ff0000"/>
<rect x="8.4" y="244.95" width="8.6" height="5.90" fill="#ff5d00"/>
<rect x="8.4" y="250.80" width="8.6" height="5.90" fill="#ffb900"/>
<rect x="8.4" y="256.65" width="8.6" height="5.90" fill="#e8ff00"/>
<rect x="8.4" y="262.50" width="8.6" height="5.90" fill="#8bff00"/>
<rect x="8.4" y="268.35" width="8.6" height="5.90" fill="#2eff00"/>
<rect x="8.4" y="274.20" width="8.6" height="5.90" fill="#00ff2e"/>
<rect x="8.4" y="280.05" width="8.6" height="5.90" fill="#00ff8b"/>
<rect x="8.4" y="285.90" width="8.6" height="5.90" fill="#00ffe8"/>
<rect x="8.4" y="291.75" width="8.6" height="5.90" fill="#00b9ff"/>
<rect x="8.4" y="297.60" width="8.6" height="5.90" fill="#005dff"/>
<rect x="8.4" y="303.45" width="8.6" height="5.90" fill="#0000ff"/>
<line x1="17.0" y1="239.10" x2="19.5" y2="239.10" stroke="#888" stroke-width="0.5"/>
<line x1="17.0" y1="244.95" x2="19.5" y2="244.95" stroke="#888" stroke-width="0.5"/>
<line x1="17.0" y1="250.80" x2="19.5" y2="250.80" stroke="#888" stroke-width="0.5"/>
<line x1="17.0" y1="256.65" x2="19.5" y2="256.65" stroke="#888" stroke-width="0.5"/>
<line x1="17.0" y1="262.50" x2="19.5" y2="262.50" stroke="#888" stroke-width="0.5"/>
<line x1="17.0" y1="268.35" x2="19.5" y2="268.35" stroke="#888" stroke-width="0.5"/>
<line x1="17.0" y1="274.20" x2="19.5" y2="274.20" stroke="#888" stroke-width="0.5"/>
<line x1="17.0" y1="280.05" x2="19.5" y2="280.05" stroke="#888" stroke-width="0.5"/>
<line x1="17.0" y1="285.90" x2="19.5" y2="285.90" stroke="#888" stroke-width="0.5"/>
<line x1="17.0" y1="291.75" x2="19.5" y2="291.75" stroke="#888" stroke-width="0.5"/>
<line x1="17.0" y1="297.60" x2="19.5" y2="297.60" stroke="#888" stroke-width="0.5"/>
<line x1="17.0" y1="303.45" x2="19.5" y2="303.45" stroke="#888" stroke-width="0.5"/>
<line x1="17.0" y1="309.30" x2="19.5" y2="309.30" stroke="#888" stroke-width="0.5"/>
<clipPath id="clip4"><path d="M331.3,215.2 L508,215.2 L505.8,411.6 L373.0,411.6 A41.7,56.6 0 0 0 331.3,355.0 Z"/></clipPath>
<g clip-path="url(#clip4)">
<rect x="0" y="0" width="768" height="414" fill="#00d172"/>
<polygon points="331.3,215.2 455.0,215.2 452.5,232.0 448.8,257.0 440.0,267.0 432.5,284.5 422.5,299.5 407.5,303.2 400.0,307.0 392.0,317.9 387.0,325.9 380.6,332.3 369.5,336.3 366.3,341.9 368.7,349.8 374.3,357.8 375.8,368.0 368.8,379.5 331.3,411.6" fill="#00d1be"/>
<polygon points="331.3,215.2 393.8,215.2 391.2,247.0 382.5,264.5 381.2,277.0 371.2,292.0 371.1,302.0 370.3,311.6 365.5,317.9 363.9,330.7 359.1,343.5 357.5,349.8 359.9,357.8 358.3,365.8 365.0,374.5 331.3,411.6" fill="#0098d1"/>
<polygon points="331.3,260.8 338.8,267.0 341.2,275.8 351.2,284.5 349.5,296.0 348.7,302.0 352.7,306.8 353.5,317.9 351.9,329.1 353.5,338.7 351.1,348.3 355.9,356.2 357.5,363.4 361.2,372.0 331.3,411.6" fill="#004cd1"/>
<polygon points="331.3,311.6 337.6,314.8 340.8,322.7 341.6,333.9 343.9,341.9 343.1,349.8 348.7,356.2 354.3,362.6 358.5,368.5 355.0,367.5 348.0,361.5 340.0,356.5 335.0,351.0 331.3,345.0" fill="#0000d1"/>
<polygon points="509.0,354.5 492.5,367.0 482.5,382.0 475.0,399.5 472.5,411.6 509.0,411.6" fill="#00d1be"/>
<polygon points="359.9,372.1 373.0,365.6 380.5,357.5 391.8,354.4 411.0,355.0 416.7,363.5 419.0,378.0 420.1,397.5 417.5,411.6 331.3,411.6" fill="#00d126"/>
<polygon points="362.8,375.7 373.0,375.7 381.7,378.6 388.9,384.4 393.3,391.0 394.0,398.9 393.6,411.6 331.3,411.6" fill="#26d100"/>
<polygon points="365.0,379.4 373.7,380.1 381.0,384.4 385.3,390.2 387.5,397.5 388.2,404.7 388.9,411.6 331.3,411.6" fill="#72d100"/>
<polygon points="366.5,382.3 373.0,383.0 378.1,387.3 381.4,393.1 382.8,397.5 385.3,404.7 386.8,411.6 331.3,411.6" fill="#bed100"/>
<polygon points="367.9,385.9 371.5,386.2 373.7,389.5 375.9,393.9 377.3,397.5 378.3,404.7 379.3,411.6 331.3,411.6" fill="#d19800"/>
<polygon points="368.9,389.5 371.5,391.0 373.7,394.6 375.2,397.5 376.4,404.7 377.2,411.6 331.3,411.6" fill="#d14c00"/>
<polygon points="370.1,393.1 372.5,394.6 373.8,397.5 374.8,404.7 375.4,411.6 331.3,411.6" fill="#d10000"/>
<polyline points="331.3,244.5 366.2,215.2" fill="none" stroke="#ffffff" stroke-opacity="0.14" stroke-width="0.6"/>
<polyline points="365.5,245.8 402.5,215.2" fill="none" stroke="#ffffff" stroke-opacity="0.14" stroke-width="0.6"/>
<polyline points="401.2,248.2 437.5,215.2" fill="none" stroke="#ffffff" stroke-opacity="0.14" stroke-width="0.6"/>
<polyline points="438.0,250.8 473.0,215.2" fill="none" stroke="#ffffff" stroke-opacity="0.14" stroke-width="0.6"/>
<polyline points="473.0,252.0 508.0,215.2" fill="none" stroke="#ffffff" stroke-opacity="0.14" stroke-width="0.6"/>
<polyline points="331.3,272.5 365.5,245.8" fill="none" stroke="#ffffff" stroke-opacity="0.14" stroke-width="0.6"/>
<polyline points="363.0,273.2 401.2,248.2" fill="none" stroke="#ffffff" stroke-opacity="0.14" stroke-width="0.6"/>
<polyline points="399.5,282.0 438.0,250.8" fill="none" stroke="#ffffff" stroke-opacity="0.14" stroke-width="0.6"/>
<polyline points="438.8,284.5 473.0,252.0" fill="none" stroke="#ffffff" stroke-opacity="0.14" stroke-width="0.6"/>
<polyline points="472.5,290.8 508.0,254.5" fill="none" stroke="#ffffff" stroke-opacity="0.14" stroke-width="0.6"/>
<polyline points="331.3,301.0 363.0,273.2" fill="none" stroke="#ffffff" stroke-opacity="0.14" stroke-width="0.6"/>
<polyline points="358.5,303.0 399.5,282.0" fill="none" stroke="#ffffff" stroke-opacity="0.14" stroke-width="0.6"/>
<polyline points="383.5,301.8 438.8,284.5" fill="none" stroke="#ffffff" stroke-opacity="0.14" stroke-width="0.6"/>
<polyline points="410.2,311.0 472.5,290.8" fill="none" stroke="#ffffff" stroke-opacity="0.14" stroke-width="0.6"/>
<polyline points="436.8,313.5 508.0,294.5" fill="none" stroke="#ffffff" stroke-opacity="0.14" stroke-width="0.6"/>
<polyline points="441.0,380.8 466.2,332.0" fill="none" stroke="#ffffff" stroke-opacity="0.14" stroke-width="0.6"/>
<polyline points="471.8,376.7 506.5,333.2" fill="none" stroke="#ffffff" stroke-opacity="0.14" stroke-width="0.6"/>
<polyline points="439.3,411.6 471.8,376.7" fill="none" stroke="#ffffff" stroke-opacity="0.14" stroke-width="0.6"/>
<polyline points="471.0,411.6 506.2,372.0" fill="none" stroke="#ffffff" stroke-opacity="0.14" stroke-width="0.6"/>
<polyline points="405.2,411.6 441.0,380.8" fill="none" stroke="#ffffff" stroke-opacity="0.14" stroke-width="0.6"/>
<polyline points="411.8,382.5 439.3,353.3" fill="none" stroke="#ffffff" stroke-opacity="0.14" stroke-width="0.6"/>
<polyline points="416.0,351.0 430.2,331.8" fill="none" stroke="#ffffff" stroke-opacity="0.14" stroke-width="0.6"/>
<polyline points="397.7,336.0 410.2,311.0" fill="none" stroke="#ffffff" stroke-opacity="0.14" stroke-width="0.6"/>
<polyline points="371.0,326.8 383.5,301.8" fill="none" stroke="#ffffff" stroke-opacity="0.14" stroke-width="0.6"/>
<polyline points="353.5,326.0 358.5,303.0" fill="none" stroke="#ffffff" stroke-opacity="0.14" stroke-width="0.6"/>
<polyline points="466.2,332.0 508.0,294.5" fill="none" stroke="#ffffff" stroke-opacity="0.14" stroke-width="0.6"/>
<polyline points="439.3,351.0 466.2,332.0" fill="none" stroke="#ffffff" stroke-opacity="0.14" stroke-width="0.6"/>
<polyline points="391.0,317.7 404.3,296.0" fill="none" stroke="#ffffff" stroke-opacity="0.14" stroke-width="0.6"/>
<polyline points="413.5,333.5 436.8,313.5" fill="none" stroke="#ffffff" stroke-opacity="0.14" stroke-width="0.6"/>
<polyline points="366.2,215.2 365.5,245.8 363.0,273.2 358.5,303.0 353.5,317.9 351.9,329.1 356.7,338.7 359.1,349.8 362.3,357.8" fill="none" stroke="#0a2a30" stroke-opacity="0.75" stroke-width="0.55"/>
<polyline points="402.5,215.2 401.2,248.2 399.5,282.0 404.3,296.0 410.2,311.0 413.5,333.5 416.0,351.0 416.0,355.0 411.8,382.5 405.2,411.6" fill="none" stroke="#0a2a30" stroke-opacity="0.75" stroke-width="0.55"/>
<polyline points="437.5,215.2 438.0,250.8 438.8,284.5 437.7,296.0 436.5,313.8 430.2,332.7 439.3,351.0 439.3,353.3 441.0,380.8 439.3,411.6" fill="none" stroke="#0a2a30" stroke-opacity="0.75" stroke-width="0.55"/>
<polyline points="473.0,215.2 473.0,252.0 472.7,290.2 467.2,333.5 471.8,376.7 471.0,411.6" fill="none" stroke="#0a2a30" stroke-opacity="0.75" stroke-width="0.55"/>
<polyline points="331.3,244.5 365.5,245.8 401.2,248.2 438.0,250.8 473.0,252.0 508.0,254.5" fill="none" stroke="#0a2a30" stroke-opacity="0.75" stroke-width="0.55"/>
<polyline points="331.3,272.5 363.0,273.2 399.5,282.0 438.8,284.5 472.5,290.8 508.0,294.5" fill="none" stroke="#0a2a30" stroke-opacity="0.75" stroke-width="0.55"/>
<polyline points="331.3,301.0 358.5,303.0 383.5,301.8 399.5,282.0" fill="none" stroke="#0a2a30" stroke-opacity="0.75" stroke-width="0.55"/>
<polyline points="358.5,303.0 371.1,326.7 380.6,343.5 383.8,354.6" fill="none" stroke="#0a2a30" stroke-opacity="0.75" stroke-width="0.55"/>
<polyline points="383.5,301.8 391.0,317.7 397.7,336.0 400.2,352.7 400.2,356.7 396.8,373.3 411.8,382.5" fill="none" stroke="#0a2a30" stroke-opacity="0.75" stroke-width="0.55"/>
<polyline points="331.3,327.5 340.8,325.9 351.9,329.1 371.1,326.7 391.0,317.7 410.2,311.0 436.8,313.5" fill="none" stroke="#0a2a30" stroke-opacity="0.75" stroke-width="0.55"/>
<polyline points="436.8,313.5 466.2,332.0 506.5,333.2" fill="none" stroke="#0a2a30" stroke-opacity="0.75" stroke-width="0.55"/>
<polyline points="397.7,336.0 413.5,333.5 430.2,331.8" fill="none" stroke="#0a2a30" stroke-opacity="0.75" stroke-width="0.55"/>
<polyline points="466.2,332.0 449.3,345.0 439.3,351.0 416.0,351.0 400.2,352.7 386.0,354.3 374.3,363.3" fill="none" stroke="#0a2a30" stroke-opacity="0.75" stroke-width="0.55"/>
<polyline points="380.6,343.5 397.7,336.0" fill="none" stroke="#0a2a30" stroke-opacity="0.75" stroke-width="0.55"/>
<polyline points="371.1,326.7 367.9,341.9 372.7,351.4 375.8,359.4" fill="none" stroke="#0a2a30" stroke-opacity="0.75" stroke-width="0.55"/>
<polyline points="343.9,337.9 356.7,338.7 367.9,341.9 380.6,343.5" fill="none" stroke="#0a2a30" stroke-opacity="0.75" stroke-width="0.55"/>
<polyline points="340.8,325.9 343.9,337.9 343.1,349.8 348.7,356.2" fill="none" stroke="#0a2a30" stroke-opacity="0.75" stroke-width="0.55"/>
<polyline points="331.3,336.3 343.9,337.9 351.9,348.3 355.9,356.2" fill="none" stroke="#0a2a30" stroke-opacity="0.75" stroke-width="0.55"/>
<polyline points="392.0,349.8 383.8,354.6 372.7,351.4 359.1,349.8 351.9,348.3 343.1,349.8 331.3,348.3" fill="none" stroke="#0a2a30" stroke-opacity="0.75" stroke-width="0.55"/>
<polyline points="506.2,372.0 471.8,376.7 441.0,380.8 411.8,382.5 395.2,393.3 394.3,402.5 405.2,411.6" fill="none" stroke="#0a2a30" stroke-opacity="0.75" stroke-width="0.55"/>
<polyline points="386.0,354.3 386.8,358.3 382.7,370.0 396.8,373.3" fill="none" stroke="#0a2a30" stroke-opacity="0.75" stroke-width="0.55"/>
<polyline points="396.8,373.3 381.8,380.8" fill="none" stroke="#0a2a30" stroke-opacity="0.75" stroke-width="0.55"/>
<polyline points="395.2,393.3 385.0,388.0" fill="none" stroke="#0a2a30" stroke-opacity="0.75" stroke-width="0.55"/>
<polyline points="375.1,411.6 375.0,407.8 374.7,403.9 374.3,400.1 373.6,396.4 372.8,392.7 371.8,389.1 370.7,385.5 369.3,382.1 367.8,378.9 366.2,375.7 364.4,372.7 362.5,369.9 360.4,367.2 358.3,364.8" fill="none" stroke="#0a2a30" stroke-opacity="0.75" stroke-width="0.55"/>
<polyline points="377.6,411.6 377.5,407.5 377.2,403.5 376.7,399.5 376.0,395.5 375.2,391.6 374.1,387.8 372.9,384.1 371.5,380.5 369.9,377.0 368.2,373.7 366.3,370.5 364.3,367.5 362.1,364.7 359.8,362.1" fill="none" stroke="#0a2a30" stroke-opacity="0.75" stroke-width="0.55"/>
<polyline points="380.5,411.6 380.4,407.3 380.1,403.0 379.6,398.7 378.9,394.5 377.9,390.3 376.8,386.3 375.5,382.3 374.0,378.5 372.4,374.8 370.5,371.3 368.5,367.9 366.4,364.7 364.0,361.7 361.6,359.0" fill="none" stroke="#0a2a30" stroke-opacity="0.75" stroke-width="0.55"/>
<polyline points="384.3,411.6 384.1,406.9 383.8,402.3 383.3,397.7 382.5,393.2 381.5,388.7 380.3,384.3 378.9,380.1 377.3,376.0 375.5,372.0 373.5,368.2 371.4,364.6 369.0,361.2 366.5,357.9 363.9,355.0" fill="none" stroke="#0a2a30" stroke-opacity="0.75" stroke-width="0.55"/>
<polyline points="388.8,411.6 388.7,406.5 388.4,401.5 387.8,396.5 386.9,391.6 385.8,386.7 384.5,382.0 383.0,377.4 381.3,372.9 379.3,368.6 377.2,364.4 374.8,360.5 372.3,356.8 369.6,353.3 366.7,350.1" fill="none" stroke="#0a2a30" stroke-opacity="0.75" stroke-width="0.55"/>
<polyline points="358.0,365.2 355.7,362.9 353.2,360.8 350.7,359.0 348.1,357.3 345.4,355.9 342.7,354.8 339.9,353.9 337.0,353.3 334.2,352.9 331.3,352.7" fill="none" stroke="#0a2a30" stroke-opacity="0.75" stroke-width="0.55"/>
<polyline points="359.3,363.0 356.8,360.6 354.3,358.4 351.7,356.4 348.9,354.7 346.1,353.3 343.2,352.1 340.3,351.1 337.3,350.4 334.3,350.0 331.3,349.9" fill="none" stroke="#0a2a30" stroke-opacity="0.75" stroke-width="0.55"/>
<polyline points="372.9,407.7 388.7,406.2" fill="none" stroke="#0a2a30" stroke-opacity="0.75" stroke-width="0.55"/>
<polyline points="372.5,402.7 379.9,401.2" fill="none" stroke="#0a2a30" stroke-opacity="0.75" stroke-width="0.55"/>
<polyline points="371.8,397.9 387.1,392.7" fill="none" stroke="#0a2a30" stroke-opacity="0.75" stroke-width="0.55"/>
<polyline points="370.7,393.2 377.8,389.9" fill="none" stroke="#0a2a30" stroke-opacity="0.75" stroke-width="0.55"/>
<polyline points="369.4,388.6 383.9,379.8" fill="none" stroke="#0a2a30" stroke-opacity="0.75" stroke-width="0.55"/>
<polyline points="367.8,384.2 374.3,379.2" fill="none" stroke="#0a2a30" stroke-opacity="0.75" stroke-width="0.55"/>
<polyline points="365.9,379.9 379.0,367.9" fill="none" stroke="#0a2a30" stroke-opacity="0.75" stroke-width="0.55"/>
<polyline points="363.7,376.0 369.5,369.6" fill="none" stroke="#0a2a30" stroke-opacity="0.75" stroke-width="0.55"/>
<polyline points="361.3,372.3 372.7,357.3" fill="none" stroke="#0a2a30" stroke-opacity="0.75" stroke-width="0.55"/>
<polyline points="358.7,368.9 363.6,361.2" fill="none" stroke="#0a2a30" stroke-opacity="0.75" stroke-width="0.55"/>
<polyline points="354.6,364.7 356.7,360.5" fill="none" stroke="#0a2a30" stroke-opacity="0.75" stroke-width="0.55"/>
<polyline points="351.5,362.1 353.3,357.6" fill="none" stroke="#0a2a30" stroke-opacity="0.75" stroke-width="0.55"/>
<polyline points="348.3,359.9 349.8,355.2" fill="none" stroke="#0a2a30" stroke-opacity="0.75" stroke-width="0.55"/>
<polyline points="344.9,358.1 346.1,353.3" fill="none" stroke="#0a2a30" stroke-opacity="0.75" stroke-width="0.55"/>
<polyline points="341.4,356.7 342.3,351.7" fill="none" stroke="#0a2a30" stroke-opacity="0.75" stroke-width="0.55"/>
<polyline points="337.8,355.7 338.4,350.7" fill="none" stroke="#0a2a30" stroke-opacity="0.75" stroke-width="0.55"/>
<polyline points="334.2,355.1 334.5,350.1" fill="none" stroke="#0a2a30" stroke-opacity="0.75" stroke-width="0.55"/>
</g>
<path d="M331.3,215.2 L508,215.2 L505.8,411.6 L373.0,411.6 A41.7,56.6 0 0 0 331.3,355.0 Z" fill="none" stroke="#2a4a4a" stroke-opacity="0.7" stroke-width="0.5"/>
<rect x="262.5" y="215.5" width="66.2" height="100.6" fill="#fff" stroke="#b4b4b4" stroke-width="0.9"/>
<g filter="url(#gray)">
<text x="268.8" y="227.1" class="t">S, Mises</text>
<text x="268.8" y="235.3" class="t2">(Avg: 75%)</text>
<text x="284.1" y="242.00" class="v" transform="rotate(0.05 284.1 242.00)">+4.774e+10</text>
<text x="284.1" y="247.85" class="v" transform="rotate(0.05 284.1 247.85)">+4.417e+10</text>
<text x="284.1" y="253.70" class="v" transform="rotate(0.05 284.1 253.70)">+4.061e+10</text>
<text x="284.1" y="259.55" class="v" transform="rotate(0.05 284.1 259.55)">+3.704e+10</text>
<text x="284.1" y="265.40" class="v" transform="rotate(0.05 284.1 265.40)">+3.347e+10</text>
<text x="284.1" y="271.25" class="v" transform="rotate(0.05 284.1 271.25)">+2.990e+10</text>
<text x="284.1" y="277.10" class="v" transform="rotate(0.05 284.1 277.10)">+2.633e+10</text>
<text x="284.1" y="282.95" class="v" transform="rotate(0.05 284.1 282.95)">+2.276e+10</text>
<text x="284.1" y="288.80" class="v" transform="rotate(0.05 284.1 288.80)">+1.919e+10</text>
<text x="284.1" y="294.65" class="v" transform="rotate(0.05 284.1 294.65)">+1.563e+10</text>
<text x="284.1" y="300.50" class="v" transform="rotate(0.05 284.1 300.50)">+1.206e+10</text>
<text x="284.1" y="306.35" class="v" transform="rotate(0.05 284.1 306.35)">+8.489e+09</text>
<text x="284.1" y="312.20" class="v" transform="rotate(0.05 284.1 312.20)">+4.921e+09</text>
</g>
<rect x="268.8" y="240.20" width="8.6" height="5.90" fill="#ff0000"/>
<rect x="268.8" y="246.05" width="8.6" height="5.90" fill="#ff5d00"/>
<rect x="268.8" y="251.90" width="8.6" height="5.90" fill="#ffb900"/>
<rect x="268.8" y="257.75" width="8.6" height="5.90" fill="#e8ff00"/>
<rect x="268.8" y="263.60" width="8.6" height="5.90" fill="#8bff00"/>
<rect x="268.8" y="269.45" width="8.6" height="5.90" fill="#2eff00"/>
<rect x="268.8" y="275.30" width="8.6" height="5.90" fill="#00ff2e"/>
<rect x="268.8" y="281.15" width="8.6" height="5.90" fill="#00ff8b"/>
<rect x="268.8" y="287.00" width="8.6" height="5.90" fill="#00ffe8"/>
<rect x="268.8" y="292.85" width="8.6" height="5.90" fill="#00b9ff"/>
<rect x="268.8" y="298.70" width="8.6" height="5.90" fill="#005dff"/>
<rect x="268.8" y="304.55" width="8.6" height="5.90" fill="#0000ff"/>
<line x1="277.4" y1="240.20" x2="279.9" y2="240.20" stroke="#888" stroke-width="0.5"/>
<line x1="277.4" y1="246.05" x2="279.9" y2="246.05" stroke="#888" stroke-width="0.5"/>
<line x1="277.4" y1="251.90" x2="279.9" y2="251.90" stroke="#888" stroke-width="0.5"/>
<line x1="277.4" y1="257.75" x2="279.9" y2="257.75" stroke="#888" stroke-width="0.5"/>
<line x1="277.4" y1="263.60" x2="279.9" y2="263.60" stroke="#888" stroke-width="0.5"/>
<line x1="277.4" y1="269.45" x2="279.9" y2="269.45" stroke="#888" stroke-width="0.5"/>
<line x1="277.4" y1="275.30" x2="279.9" y2="275.30" stroke="#888" stroke-width="0.5"/>
<line x1="277.4" y1="281.15" x2="279.9" y2="281.15" stroke="#888" stroke-width="0.5"/>
<line x1="277.4" y1="287.00" x2="279.9" y2="287.00" stroke="#888" stroke-width="0.5"/>
<line x1="277.4" y1="292.85" x2="279.9" y2="292.85" stroke="#888" stroke-width="0.5"/>
<line x1="277.4" y1="298.70" x2="279.9" y2="298.70" stroke="#888" stroke-width="0.5"/>
<line x1="277.4" y1="304.55" x2="279.9" y2="304.55" stroke="#888" stroke-width="0.5"/>
<line x1="277.4" y1="310.40" x2="279.9" y2="310.40" stroke="#888" stroke-width="0.5"/>
<clipPath id="clip5"><path d="M590.2,216.1 L765.9,216.1 L763.4,410.6 L630.7,410.6 A40.5,56.1 0 0 0 590.2,354.5 Z"/></clipPath>
<g clip-path="url(#clip5)">
<rect x="0" y="0" width="768" height="414" fill="#00d172"/>
<polygon points="754.9,216.1 765.9,216.1 765.0,292.0 761.0,269.5 755.5,253.2" fill="#00d126"/>
<polygon points="590.2,216.1 674.0,216.1 671.0,244.5 668.5,255.8 662.2,267.0 658.5,282.0 646.0,295.8 639.6,302.0 634.8,314.8 630.1,324.3 624.5,332.3 622.9,343.5 621.3,349.8 623.7,356.2 622.0,366.0 624.8,378.2 590.2,410.6" fill="#00d1be"/>
<polygon points="590.2,216.1 607.2,216.1 611.0,232.0 612.2,244.5 617.2,253.2 616.0,274.5 618.5,292.0 618.9,302.0 620.5,311.6 615.7,321.1 616.5,333.9 613.3,343.5 614.1,351.4 617.3,357.8 622.2,372.5 590.2,410.6" fill="#0098d1"/>
<polygon points="590.2,301.5 598.2,306.8 602.9,313.2 603.7,325.9 605.3,333.9 607.7,341.9 606.9,349.8 610.9,356.2 617.2,363.2 618.5,369.5 590.2,410.6" fill="#004cd1"/>
<polygon points="600.0,355.0 606.0,356.8 612.0,361.0 617.0,366.5 618.0,369.5 590.2,410.6" fill="#0000d1"/>
<polygon points="626.0,382.0 632.2,357.0 639.8,342.0 658.5,334.5 667.2,324.5 683.5,320.8 704.8,328.2 706.0,344.5 703.5,362.0 699.8,379.5 696.0,392.0 694.8,410.6 590.2,410.6" fill="#00d126"/>
<polygon points="621.4,373.6 633.0,372.8 646.0,372.8 651.8,378.6 654.7,388.8 662.0,396.0 666.3,403.3 676.0,410.6 590.2,410.6" fill="#26d100"/>
<polygon points="623.6,377.2 633.0,377.9 640.2,383.0 646.0,390.2 648.9,397.5 650.4,410.6 590.2,410.6" fill="#72d100"/>
<polygon points="625.4,381.5 633.0,383.0 638.1,388.8 641.7,396.0 643.9,401.8 645.3,410.6 590.2,410.6" fill="#bed100"/>
<polygon points="626.9,385.2 631.5,386.6 635.2,393.1 638.1,400.4 639.5,410.6 590.2,410.6" fill="#d19800"/>
<polygon points="627.9,388.1 630.8,389.5 633.7,396.0 635.2,403.3 636.2,410.6 590.2,410.6" fill="#bb520c"/>
<polygon points="628.9,391.7 631.5,393.9 633.3,400.4 634.4,410.6 590.2,410.6" fill="#a8300c"/>
<polyline points="590.2,244.5 625.2,216.1" fill="none" stroke="#ffffff" stroke-opacity="0.14" stroke-width="0.6"/>
<polyline points="622.2,245.8 660.2,216.1" fill="none" stroke="#ffffff" stroke-opacity="0.14" stroke-width="0.6"/>
<polyline points="661.0,254.0 696.0,216.1" fill="none" stroke="#ffffff" stroke-opacity="0.14" stroke-width="0.6"/>
<polyline points="699.8,250.0 731.0,216.1" fill="none" stroke="#ffffff" stroke-opacity="0.14" stroke-width="0.6"/>
<polyline points="733.0,252.0 765.9,216.1" fill="none" stroke="#ffffff" stroke-opacity="0.14" stroke-width="0.6"/>
<polyline points="590.2,272.5 622.2,245.8" fill="none" stroke="#ffffff" stroke-opacity="0.14" stroke-width="0.6"/>
<polyline points="616.0,274.5 661.0,254.0" fill="none" stroke="#ffffff" stroke-opacity="0.14" stroke-width="0.6"/>
<polyline points="641.0,280.8 699.8,250.0" fill="none" stroke="#ffffff" stroke-opacity="0.14" stroke-width="0.6"/>
<polyline points="678.5,283.2 733.0,252.0" fill="none" stroke="#ffffff" stroke-opacity="0.14" stroke-width="0.6"/>
<polyline points="704.8,280.8 766.0,255.0" fill="none" stroke="#ffffff" stroke-opacity="0.14" stroke-width="0.6"/>
<polyline points="590.2,300.8 616.0,274.5" fill="none" stroke="#ffffff" stroke-opacity="0.14" stroke-width="0.6"/>
<polyline points="606.0,303.2 641.0,280.8" fill="none" stroke="#ffffff" stroke-opacity="0.14" stroke-width="0.6"/>
<polyline points="626.0,307.0 678.5,283.2" fill="none" stroke="#ffffff" stroke-opacity="0.14" stroke-width="0.6"/>
<polyline points="651.0,310.0 704.8,280.8" fill="none" stroke="#ffffff" stroke-opacity="0.14" stroke-width="0.6"/>
<polyline points="683.5,307.0 734.8,284.5" fill="none" stroke="#ffffff" stroke-opacity="0.14" stroke-width="0.6"/>
<polyline points="704.3,352.5 726.0,332.0" fill="none" stroke="#ffffff" stroke-opacity="0.14" stroke-width="0.6"/>
<polyline points="731.0,350.0 764.5,333.0" fill="none" stroke="#ffffff" stroke-opacity="0.14" stroke-width="0.6"/>
<polyline points="703.5,379.2 731.0,350.0" fill="none" stroke="#ffffff" stroke-opacity="0.14" stroke-width="0.6"/>
<polyline points="732.7,376.7 764.5,333.0" fill="none" stroke="#ffffff" stroke-opacity="0.14" stroke-width="0.6"/>
<polyline points="699.3,410.6 732.7,376.7" fill="none" stroke="#ffffff" stroke-opacity="0.14" stroke-width="0.6"/>
<polyline points="731.0,410.6 764.5,372.0" fill="none" stroke="#ffffff" stroke-opacity="0.14" stroke-width="0.6"/>
<polyline points="734.8,284.5 766.0,255.0" fill="none" stroke="#ffffff" stroke-opacity="0.14" stroke-width="0.6"/>
<polyline points="736.0,307.0 766.0,294.5" fill="none" stroke="#ffffff" stroke-opacity="0.14" stroke-width="0.6"/>
<polyline points="706.0,307.0 734.8,284.5" fill="none" stroke="#ffffff" stroke-opacity="0.14" stroke-width="0.6"/>
<polyline points="679.7,350.8 706.0,329.5" fill="none" stroke="#ffffff" stroke-opacity="0.14" stroke-width="0.6"/>
<polyline points="678.5,375.0 704.3,352.5" fill="none" stroke="#ffffff" stroke-opacity="0.14" stroke-width="0.6"/>
<polyline points="671.8,393.3 703.5,379.2" fill="none" stroke="#ffffff" stroke-opacity="0.14" stroke-width="0.6"/>
<polyline points="664.3,356.7 683.5,320.8" fill="none" stroke="#ffffff" stroke-opacity="0.14" stroke-width="0.6"/>
<polyline points="647.2,327.0 667.2,310.8" fill="none" stroke="#ffffff" stroke-opacity="0.14" stroke-width="0.6"/>
<polyline points="619.8,325.8 651.0,314.5" fill="none" stroke="#ffffff" stroke-opacity="0.14" stroke-width="0.6"/>
<polyline points="663.5,372.5 679.7,350.8" fill="none" stroke="#ffffff" stroke-opacity="0.14" stroke-width="0.6"/>
<polyline points="625.2,216.1 622.2,245.8 616.0,274.5 606.0,303.2 603.7,329.1 605.3,343.5 606.9,354.6" fill="none" stroke="#0a2a30" stroke-opacity="0.75" stroke-width="0.55"/>
<polyline points="660.2,216.1 661.0,254.0 641.0,280.8 626.0,307.0 617.3,328.3 618.9,343.5 621.3,356.2" fill="none" stroke="#0a2a30" stroke-opacity="0.75" stroke-width="0.55"/>
<polyline points="696.0,216.1 699.8,250.0 704.8,280.8 705.5,296.0 705.8,306.3 704.2,329.3 704.2,352.7 703.5,379.2 699.3,410.6" fill="none" stroke="#0a2a30" stroke-opacity="0.75" stroke-width="0.55"/>
<polyline points="731.0,216.1 733.0,252.0 734.8,284.5 733.3,296.0 731.7,312.7 723.3,330.2 730.8,349.3 732.7,376.7 731.0,410.6" fill="none" stroke="#0a2a30" stroke-opacity="0.75" stroke-width="0.55"/>
<polyline points="590.2,244.5 622.2,245.8 661.0,254.0 699.8,250.0 733.0,252.0 766.0,255.0" fill="none" stroke="#0a2a30" stroke-opacity="0.75" stroke-width="0.55"/>
<polyline points="590.2,272.5 616.0,274.5 641.0,280.8 656.7,296.0 645.8,318.5 650.0,331.0 643.3,340.2" fill="none" stroke="#0a2a30" stroke-opacity="0.75" stroke-width="0.55"/>
<polyline points="661.0,254.0 678.5,283.2 680.8,296.0 683.3,306.3 683.7,327.7 679.2,350.2 678.5,375.0 671.8,393.3 661.8,401.7" fill="none" stroke="#0a2a30" stroke-opacity="0.75" stroke-width="0.55"/>
<polyline points="656.7,296.0 678.5,283.2 704.8,280.8 734.8,284.5 766.0,294.5" fill="none" stroke="#0a2a30" stroke-opacity="0.75" stroke-width="0.55"/>
<polyline points="590.2,300.8 606.0,303.2 626.0,307.0 634.8,314.8 645.8,318.5" fill="none" stroke="#0a2a30" stroke-opacity="0.75" stroke-width="0.55"/>
<polyline points="656.7,296.0 669.2,309.3 683.3,306.3 705.8,306.3 731.7,312.7 764.2,333.5" fill="none" stroke="#0a2a30" stroke-opacity="0.75" stroke-width="0.55"/>
<polyline points="669.2,309.3 665.0,324.3 645.8,318.5" fill="none" stroke="#0a2a30" stroke-opacity="0.75" stroke-width="0.55"/>
<polyline points="665.0,324.3 683.7,327.7 704.2,329.3 723.3,330.2" fill="none" stroke="#0a2a30" stroke-opacity="0.75" stroke-width="0.55"/>
<polyline points="764.5,372.0 732.7,376.7 703.5,379.2 678.5,375.0 663.5,372.5 649.3,372.5 639.3,374.2" fill="none" stroke="#0a2a30" stroke-opacity="0.75" stroke-width="0.55"/>
<polyline points="764.2,333.5 730.8,349.3 704.2,352.7 679.2,350.2 661.7,358.5 650.0,361.8 641.0,365.8 632.7,370.8" fill="none" stroke="#0a2a30" stroke-opacity="0.75" stroke-width="0.55"/>
<polyline points="665.0,324.3 657.5,335.2 662.5,338.0 679.2,350.2" fill="none" stroke="#0a2a30" stroke-opacity="0.75" stroke-width="0.55"/>
<polyline points="661.7,358.5 663.5,372.5 661.0,383.3 650.2,391.7" fill="none" stroke="#0a2a30" stroke-opacity="0.75" stroke-width="0.55"/>
<polyline points="671.8,393.3 696.0,410.6" fill="none" stroke="#0a2a30" stroke-opacity="0.75" stroke-width="0.55"/>
<polyline points="671.8,393.3 661.0,383.3" fill="none" stroke="#0a2a30" stroke-opacity="0.75" stroke-width="0.55"/>
<polyline points="633.3,333.1 645.8,318.5" fill="none" stroke="#0a2a30" stroke-opacity="0.75" stroke-width="0.55"/>
<polyline points="633.3,333.1 643.3,340.2 655.0,346.8 661.7,358.5" fill="none" stroke="#0a2a30" stroke-opacity="0.75" stroke-width="0.55"/>
<polyline points="655.0,346.8 662.5,338.0" fill="none" stroke="#0a2a30" stroke-opacity="0.75" stroke-width="0.55"/>
<polyline points="643.3,340.2 657.5,335.2" fill="none" stroke="#0a2a30" stroke-opacity="0.75" stroke-width="0.55"/>
<polyline points="650.0,361.8 649.3,372.5 651.8,380.8 650.2,391.7 648.5,403.3 647.7,410.6" fill="none" stroke="#0a2a30" stroke-opacity="0.75" stroke-width="0.55"/>
<polyline points="631.7,357.8 641.0,349.5 643.3,340.2" fill="none" stroke="#0a2a30" stroke-opacity="0.75" stroke-width="0.55"/>
<polyline points="641.0,349.5 650.0,361.8" fill="none" stroke="#0a2a30" stroke-opacity="0.75" stroke-width="0.55"/>
<polyline points="590.2,328.3 603.7,329.1 617.3,328.3 633.3,333.1" fill="none" stroke="#0a2a30" stroke-opacity="0.75" stroke-width="0.55"/>
<polyline points="633.3,333.1 630.1,345.1 631.7,357.8" fill="none" stroke="#0a2a30" stroke-opacity="0.75" stroke-width="0.55"/>
<polyline points="590.2,342.7 605.3,343.5 618.9,343.5 630.1,345.1 643.3,340.2" fill="none" stroke="#0a2a30" stroke-opacity="0.75" stroke-width="0.55"/>
<polyline points="632.1,410.6 632.1,407.4 631.9,404.3 631.6,401.1 631.1,398.0 630.6,395.0 629.9,391.9 629.1,389.0 628.2,386.1 627.2,383.2 626.0,380.5 624.8,377.8 623.5,375.3 622.0,372.8 620.5,370.4 618.9,368.2 617.1,366.1" fill="none" stroke="#0a2a30" stroke-opacity="0.75" stroke-width="0.55"/>
<polyline points="633.7,410.6 633.7,407.3 633.5,404.0 633.2,400.8 632.7,397.5 632.1,394.4 631.4,391.2 630.6,388.1 629.7,385.1 628.6,382.2 627.4,379.3 626.1,376.5 624.7,373.9 623.2,371.3 621.6,368.9 620.0,366.6 618.2,364.4" fill="none" stroke="#0a2a30" stroke-opacity="0.75" stroke-width="0.55"/>
<polyline points="635.6,410.6 635.5,407.2 635.3,403.8 635.0,400.4 634.5,397.0 633.9,393.7 633.2,390.4 632.3,387.2 631.3,384.0 630.2,381.0 629.0,378.0 627.6,375.1 626.2,372.4 624.6,369.7 623.0,367.2 621.2,364.7 619.4,362.5" fill="none" stroke="#0a2a30" stroke-opacity="0.75" stroke-width="0.55"/>
<polyline points="637.6,410.6 637.5,407.0 637.3,403.5 637.0,399.9 636.5,396.4 635.8,392.9 635.1,389.5 634.2,386.1 633.1,382.9 632.0,379.7 630.7,376.5 629.3,373.5 627.8,370.6 626.2,367.9 624.4,365.2 622.6,362.7 620.7,360.3" fill="none" stroke="#0a2a30" stroke-opacity="0.75" stroke-width="0.55"/>
<polyline points="640.0,410.6 639.9,406.8 639.7,403.1 639.3,399.4 638.8,395.7 638.2,392.0 637.4,388.4 636.4,384.9 635.3,381.4 634.1,378.1 632.8,374.8 631.3,371.6 629.7,368.6 628.0,365.7 626.2,362.9 624.3,360.2 622.2,357.7" fill="none" stroke="#0a2a30" stroke-opacity="0.75" stroke-width="0.55"/>
<polyline points="643.3,410.6 643.2,406.6 642.9,402.6 642.5,398.6 642.0,394.7 641.3,390.8 640.4,387.0 639.4,383.2 638.3,379.5 637.0,376.0 635.6,372.5 634.0,369.1 632.3,365.9 630.5,362.7 628.5,359.8 626.5,357.0 624.3,354.3" fill="none" stroke="#0a2a30" stroke-opacity="0.75" stroke-width="0.55"/>
<polyline points="647.7,410.6 647.6,406.3 647.4,401.9 646.9,397.6 646.3,393.4 645.6,389.1 644.7,385.0 643.6,380.9 642.3,376.9 640.9,373.0 639.4,369.3 637.7,365.6 635.8,362.1 633.8,358.7 631.7,355.5 629.5,352.5 627.2,349.6" fill="none" stroke="#0a2a30" stroke-opacity="0.75" stroke-width="0.55"/>
<polyline points="617.0,366.3 615.1,364.3 613.1,362.3 611.1,360.6 608.9,359.0 606.7,357.5 604.5,356.3 602.2,355.2 599.8,354.4 597.4,353.7 595.0,353.2 592.6,352.9 590.2,352.8" fill="none" stroke="#0a2a30" stroke-opacity="0.75" stroke-width="0.55"/>
<polyline points="617.9,364.8 616.0,362.7 613.9,360.7 611.8,358.9 609.6,357.2 607.3,355.7 605.0,354.5 602.6,353.4 600.1,352.5 597.7,351.8 595.2,351.3 592.7,351.0 590.2,350.9" fill="none" stroke="#0a2a30" stroke-opacity="0.75" stroke-width="0.55"/>
<polyline points="619.0,363.1 616.9,360.9 614.8,358.8 612.6,356.9 610.3,355.2 607.9,353.7 605.5,352.3 603.0,351.2 600.5,350.3 598.0,349.6 595.4,349.0 592.8,348.7 590.2,348.6" fill="none" stroke="#0a2a30" stroke-opacity="0.75" stroke-width="0.55"/>
<polyline points="630.6,407.7 647.6,406.4" fill="none" stroke="#0a2a30" stroke-opacity="0.75" stroke-width="0.55"/>
<polyline points="630.4,403.8 637.2,402.6" fill="none" stroke="#0a2a30" stroke-opacity="0.75" stroke-width="0.55"/>
<polyline points="630.0,399.9 646.7,395.4" fill="none" stroke="#0a2a30" stroke-opacity="0.75" stroke-width="0.55"/>
<polyline points="629.3,396.1 636.0,393.6" fill="none" stroke="#0a2a30" stroke-opacity="0.75" stroke-width="0.55"/>
<polyline points="628.5,392.3 644.6,384.7" fill="none" stroke="#0a2a30" stroke-opacity="0.75" stroke-width="0.55"/>
<polyline points="627.5,388.7 633.8,385.0" fill="none" stroke="#0a2a30" stroke-opacity="0.75" stroke-width="0.55"/>
<polyline points="626.3,385.1 641.4,374.4" fill="none" stroke="#0a2a30" stroke-opacity="0.75" stroke-width="0.55"/>
<polyline points="624.9,381.7 630.8,376.8" fill="none" stroke="#0a2a30" stroke-opacity="0.75" stroke-width="0.55"/>
<polyline points="623.4,378.4 637.3,364.9" fill="none" stroke="#0a2a30" stroke-opacity="0.75" stroke-width="0.55"/>
<polyline points="621.7,375.3 627.0,369.3" fill="none" stroke="#0a2a30" stroke-opacity="0.75" stroke-width="0.55"/>
<polyline points="619.8,372.3 632.3,356.3" fill="none" stroke="#0a2a30" stroke-opacity="0.75" stroke-width="0.55"/>
<polyline points="617.8,369.6 622.5,362.6" fill="none" stroke="#0a2a30" stroke-opacity="0.75" stroke-width="0.55"/>
<polyline points="614.6,365.8 617.1,361.1" fill="none" stroke="#0a2a30" stroke-opacity="0.75" stroke-width="0.55"/>
<polyline points="612.3,363.6 614.6,358.6" fill="none" stroke="#0a2a30" stroke-opacity="0.75" stroke-width="0.55"/>
<polyline points="609.8,361.5 611.9,356.4" fill="none" stroke="#0a2a30" stroke-opacity="0.75" stroke-width="0.55"/>
<polyline points="607.3,359.8 609.1,354.4" fill="none" stroke="#0a2a30" stroke-opacity="0.75" stroke-width="0.55"/>
<polyline points="604.7,358.2 606.2,352.7" fill="none" stroke="#0a2a30" stroke-opacity="0.75" stroke-width="0.55"/>
<polyline points="602.0,357.0 603.3,351.3" fill="none" stroke="#0a2a30" stroke-opacity="0.75" stroke-width="0.55"/>
<polyline points="599.3,355.9 600.3,350.2" fill="none" stroke="#0a2a30" stroke-opacity="0.75" stroke-width="0.55"/>
<polyline points="596.5,355.2 597.2,349.4" fill="none" stroke="#0a2a30" stroke-opacity="0.75" stroke-width="0.55"/>
<polyline points="593.7,354.7 594.1,348.8" fill="none" stroke="#0a2a30" stroke-opacity="0.75" stroke-width="0.55"/>
<polyline points="590.9,354.5 591.0,348.6" fill="none" stroke="#0a2a30" stroke-opacity="0.75" stroke-width="0.55"/>
</g>
<path d="M590.2,216.1 L765.9,216.1 L763.4,410.6 L630.7,410.6 A40.5,56.1 0 0 0 590.2,354.5 Z" fill="none" stroke="#2a4a4a" stroke-opacity="0.7" stroke-width="0.5"/>
<rect x="519.8" y="216.5" width="66.2" height="100.6" fill="#fff" stroke="#b4b4b4" stroke-width="0.9"/>
<g filter="url(#gray)">
<text x="526.1" y="228.1" class="t">S, Mises</text>
<text x="526.1" y="236.3" class="t2">(Avg: 75%)</text>
<text x="541.4" y="243.00" class="v" transform="rotate(0.05 541.4 243.00)">+4.770e+10</text>
<text x="541.4" y="248.85" class="v" transform="rotate(0.05 541.4 248.85)">+4.387e+10</text>
<text x="541.4" y="254.70" class="v" transform="rotate(0.05 541.4 254.70)">+4.005e+10</text>
<text x="541.4" y="260.55" class="v" transform="rotate(0.05 541.4 260.55)">+3.623e+10</text>
<text x="541.4" y="266.40" class="v" transform="rotate(0.05 541.4 266.40)">+3.241e+10</text>
<text x="541.4" y="272.25" class="v" transform="rotate(0.05 541.4 272.25)">+2.858e+10</text>
<text x="541.4" y="278.10" class="v" transform="rotate(0.05 541.4 278.10)">+2.476e+10</text>
<text x="541.4" y="283.95" class="v" transform="rotate(0.05 541.4 283.95)">+2.094e+10</text>
<text x="541.4" y="289.80" class="v" transform="rotate(0.05 541.4 289.80)">+1.712e+10</text>
<text x="541.4" y="295.65" class="v" transform="rotate(0.05 541.4 295.65)">+1.330e+10</text>
<text x="541.4" y="301.50" class="v" transform="rotate(0.05 541.4 301.50)">+9.474e+09</text>
<text x="541.4" y="307.35" class="v" transform="rotate(0.05 541.4 307.35)">+5.652e+09</text>
<text x="541.4" y="313.20" class="v" transform="rotate(0.05 541.4 313.20)">+1.829e+09</text>
</g>
<rect x="526.1" y="241.20" width="8.6" height="5.90" fill="#ff0000"/>
<rect x="526.1" y="247.05" width="8.6" height="5.90" fill="#ff5d00"/>
<rect x="526.1" y="252.90" width="8.6" height="5.90" fill="#ffb900"/>
<rect x="526.1" y="258.75" width="8.6" height="5.90" fill="#e8ff00"/>
<rect x="526.1" y="264.60" width="8.6" height="5.90" fill="#8bff00"/>
<rect x="526.1" y="270.45" width="8.6" height="5.90" fill="#2eff00"/>
<rect x="526.1" y="276.30" width="8.6" height="5.90" fill="#00ff2e"/>
<rect x="526.1" y="282.15" width="8.6" height="5.90" fill="#00ff8b"/>
<rect x="526.1" y="288.00" width="8.6" height="5.90" fill="#00ffe8"/>
<rect x="526.1" y="293.85" width="8.6" height="5.90" fill="#00b9ff"/>
<rect x="526.1" y="299.70" width="8.6" height="5.90" fill="#005dff"/>
<rect x="526.1" y="305.55" width="8.6" height="5.90" fill="#0000ff"/>
<line x1="534.7" y1="241.20" x2="537.2" y2="241.20" stroke="#888" stroke-width="0.5"/>
<line x1="534.7" y1="247.05" x2="537.2" y2="247.05" stroke="#888" stroke-width="0.5"/>
<line x1="534.7" y1="252.90" x2="537.2" y2="252.90" stroke="#888" stroke-width="0.5"/>
<line x1="534.7" y1="258.75" x2="537.2" y2="258.75" stroke="#888" stroke-width="0.5"/>
<line x1="534.7" y1="264.60" x2="537.2" y2="264.60" stroke="#888" stroke-width="0.5"/>
<line x1="534.7" y1="270.45" x2="537.2" y2="270.45" stroke="#888" stroke-width="0.5"/>
<line x1="534.7" y1="276.30" x2="537.2" y2="276.30" stroke="#888" stroke-width="0.5"/>
<line x1="534.7" y1="282.15" x2="537.2" y2="282.15" stroke="#888" stroke-width="0.5"/>
<line x1="534.7" y1="288.00" x2="537.2" y2="288.00" stroke="#888" stroke-width="0.5"/>
<line x1="534.7" y1="293.85" x2="537.2" y2="293.85" stroke="#888" stroke-width="0.5"/>
<line x1="534.7" y1="299.70" x2="537.2" y2="299.70" stroke="#888" stroke-width="0.5"/>
<line x1="534.7" y1="305.55" x2="537.2" y2="305.55" stroke="#888" stroke-width="0.5"/>
<line x1="534.7" y1="311.40" x2="537.2" y2="311.40" stroke="#888" stroke-width="0.5"/>
</svg>
</body></html>
